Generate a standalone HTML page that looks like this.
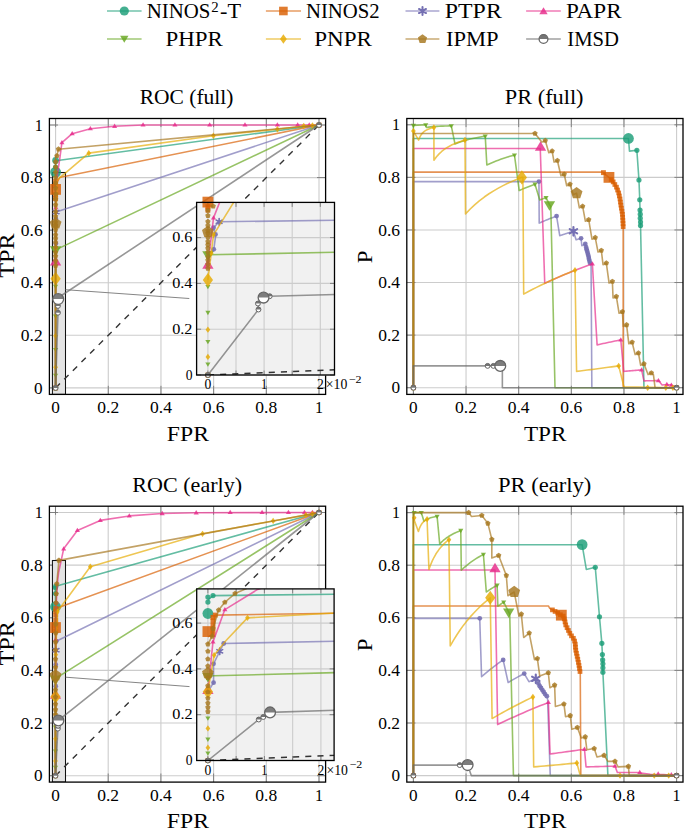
<!DOCTYPE html><html><head><meta charset="utf-8"><style>html,body{margin:0;padding:0;background:#fff;overflow:hidden}svg{display:block}text{font-family:"Liberation Serif",serif}</style></head><body><svg width="685" height="828" viewBox="0 0 685 828" font-family='"Liberation Serif", serif'>
<rect width="685" height="828" fill="#fff"/>
<defs>
<clipPath id="c_rocF"><rect x="49.4" y="118.5" width="276.20000000000005" height="275.9"/></clipPath>
<clipPath id="c_prF"><rect x="406.8" y="118.5" width="276.2" height="275.9"/></clipPath>
<clipPath id="c_rocE"><rect x="49.4" y="506.2" width="276.20000000000005" height="275.90000000000003"/></clipPath>
<clipPath id="c_prE"><rect x="406.8" y="506.2" width="276.2" height="275.90000000000003"/></clipPath>
<clipPath id="ci_rocF"><rect x="196.6" y="202.4" width="137.9" height="172.6"/></clipPath>
<clipPath id="ci_rocE"><rect x="196.7" y="588.9" width="137.40000000000003" height="171.60000000000002"/></clipPath>
</defs>
<line x1="55.60" y1="118.5" x2="55.60" y2="394.4" stroke="#cccccc" stroke-width="1.1"/>
<line x1="108.28" y1="118.5" x2="108.28" y2="394.4" stroke="#cccccc" stroke-width="1.1"/>
<line x1="160.96" y1="118.5" x2="160.96" y2="394.4" stroke="#cccccc" stroke-width="1.1"/>
<line x1="213.64" y1="118.5" x2="213.64" y2="394.4" stroke="#cccccc" stroke-width="1.1"/>
<line x1="266.32" y1="118.5" x2="266.32" y2="394.4" stroke="#cccccc" stroke-width="1.1"/>
<line x1="319.00" y1="118.5" x2="319.00" y2="394.4" stroke="#cccccc" stroke-width="1.1"/>
<line x1="49.4" y1="387.90" x2="325.6" y2="387.90" stroke="#cccccc" stroke-width="1.1"/>
<line x1="49.4" y1="335.32" x2="325.6" y2="335.32" stroke="#cccccc" stroke-width="1.1"/>
<line x1="49.4" y1="282.74" x2="325.6" y2="282.74" stroke="#cccccc" stroke-width="1.1"/>
<line x1="49.4" y1="230.16" x2="325.6" y2="230.16" stroke="#cccccc" stroke-width="1.1"/>
<line x1="49.4" y1="177.58" x2="325.6" y2="177.58" stroke="#cccccc" stroke-width="1.1"/>
<line x1="49.4" y1="125.00" x2="325.6" y2="125.00" stroke="#cccccc" stroke-width="1.1"/>
<line x1="55.60" y1="394.4" x2="55.60" y2="385.79999999999995" stroke="#777" stroke-width="0.9"/>
<line x1="55.60" y1="118.5" x2="55.60" y2="127.1" stroke="#777" stroke-width="0.9"/>
<line x1="108.28" y1="394.4" x2="108.28" y2="385.79999999999995" stroke="#777" stroke-width="0.9"/>
<line x1="108.28" y1="118.5" x2="108.28" y2="127.1" stroke="#777" stroke-width="0.9"/>
<line x1="160.96" y1="394.4" x2="160.96" y2="385.79999999999995" stroke="#777" stroke-width="0.9"/>
<line x1="160.96" y1="118.5" x2="160.96" y2="127.1" stroke="#777" stroke-width="0.9"/>
<line x1="213.64" y1="394.4" x2="213.64" y2="385.79999999999995" stroke="#777" stroke-width="0.9"/>
<line x1="213.64" y1="118.5" x2="213.64" y2="127.1" stroke="#777" stroke-width="0.9"/>
<line x1="266.32" y1="394.4" x2="266.32" y2="385.79999999999995" stroke="#777" stroke-width="0.9"/>
<line x1="266.32" y1="118.5" x2="266.32" y2="127.1" stroke="#777" stroke-width="0.9"/>
<line x1="319.00" y1="394.4" x2="319.00" y2="385.79999999999995" stroke="#777" stroke-width="0.9"/>
<line x1="319.00" y1="118.5" x2="319.00" y2="127.1" stroke="#777" stroke-width="0.9"/>
<line x1="49.4" y1="387.90" x2="58.0" y2="387.90" stroke="#777" stroke-width="0.9"/>
<line x1="325.6" y1="387.90" x2="317.0" y2="387.90" stroke="#777" stroke-width="0.9"/>
<line x1="49.4" y1="335.32" x2="58.0" y2="335.32" stroke="#777" stroke-width="0.9"/>
<line x1="325.6" y1="335.32" x2="317.0" y2="335.32" stroke="#777" stroke-width="0.9"/>
<line x1="49.4" y1="282.74" x2="58.0" y2="282.74" stroke="#777" stroke-width="0.9"/>
<line x1="325.6" y1="282.74" x2="317.0" y2="282.74" stroke="#777" stroke-width="0.9"/>
<line x1="49.4" y1="230.16" x2="58.0" y2="230.16" stroke="#777" stroke-width="0.9"/>
<line x1="325.6" y1="230.16" x2="317.0" y2="230.16" stroke="#777" stroke-width="0.9"/>
<line x1="49.4" y1="177.58" x2="58.0" y2="177.58" stroke="#777" stroke-width="0.9"/>
<line x1="325.6" y1="177.58" x2="317.0" y2="177.58" stroke="#777" stroke-width="0.9"/>
<line x1="49.4" y1="125.00" x2="58.0" y2="125.00" stroke="#777" stroke-width="0.9"/>
<line x1="325.6" y1="125.00" x2="317.0" y2="125.00" stroke="#777" stroke-width="0.9"/>
<line x1="413.40" y1="118.5" x2="413.40" y2="394.4" stroke="#cccccc" stroke-width="1.1"/>
<line x1="466.04" y1="118.5" x2="466.04" y2="394.4" stroke="#cccccc" stroke-width="1.1"/>
<line x1="518.68" y1="118.5" x2="518.68" y2="394.4" stroke="#cccccc" stroke-width="1.1"/>
<line x1="571.32" y1="118.5" x2="571.32" y2="394.4" stroke="#cccccc" stroke-width="1.1"/>
<line x1="623.96" y1="118.5" x2="623.96" y2="394.4" stroke="#cccccc" stroke-width="1.1"/>
<line x1="676.60" y1="118.5" x2="676.60" y2="394.4" stroke="#cccccc" stroke-width="1.1"/>
<line x1="406.8" y1="387.70" x2="683.0" y2="387.70" stroke="#cccccc" stroke-width="1.1"/>
<line x1="406.8" y1="335.12" x2="683.0" y2="335.12" stroke="#cccccc" stroke-width="1.1"/>
<line x1="406.8" y1="282.54" x2="683.0" y2="282.54" stroke="#cccccc" stroke-width="1.1"/>
<line x1="406.8" y1="229.96" x2="683.0" y2="229.96" stroke="#cccccc" stroke-width="1.1"/>
<line x1="406.8" y1="177.38" x2="683.0" y2="177.38" stroke="#cccccc" stroke-width="1.1"/>
<line x1="406.8" y1="124.80" x2="683.0" y2="124.80" stroke="#cccccc" stroke-width="1.1"/>
<line x1="413.40" y1="394.4" x2="413.40" y2="385.79999999999995" stroke="#777" stroke-width="0.9"/>
<line x1="413.40" y1="118.5" x2="413.40" y2="127.1" stroke="#777" stroke-width="0.9"/>
<line x1="466.04" y1="394.4" x2="466.04" y2="385.79999999999995" stroke="#777" stroke-width="0.9"/>
<line x1="466.04" y1="118.5" x2="466.04" y2="127.1" stroke="#777" stroke-width="0.9"/>
<line x1="518.68" y1="394.4" x2="518.68" y2="385.79999999999995" stroke="#777" stroke-width="0.9"/>
<line x1="518.68" y1="118.5" x2="518.68" y2="127.1" stroke="#777" stroke-width="0.9"/>
<line x1="571.32" y1="394.4" x2="571.32" y2="385.79999999999995" stroke="#777" stroke-width="0.9"/>
<line x1="571.32" y1="118.5" x2="571.32" y2="127.1" stroke="#777" stroke-width="0.9"/>
<line x1="623.96" y1="394.4" x2="623.96" y2="385.79999999999995" stroke="#777" stroke-width="0.9"/>
<line x1="623.96" y1="118.5" x2="623.96" y2="127.1" stroke="#777" stroke-width="0.9"/>
<line x1="676.60" y1="394.4" x2="676.60" y2="385.79999999999995" stroke="#777" stroke-width="0.9"/>
<line x1="676.60" y1="118.5" x2="676.60" y2="127.1" stroke="#777" stroke-width="0.9"/>
<line x1="406.8" y1="387.70" x2="415.40000000000003" y2="387.70" stroke="#777" stroke-width="0.9"/>
<line x1="683.0" y1="387.70" x2="674.4" y2="387.70" stroke="#777" stroke-width="0.9"/>
<line x1="406.8" y1="335.12" x2="415.40000000000003" y2="335.12" stroke="#777" stroke-width="0.9"/>
<line x1="683.0" y1="335.12" x2="674.4" y2="335.12" stroke="#777" stroke-width="0.9"/>
<line x1="406.8" y1="282.54" x2="415.40000000000003" y2="282.54" stroke="#777" stroke-width="0.9"/>
<line x1="683.0" y1="282.54" x2="674.4" y2="282.54" stroke="#777" stroke-width="0.9"/>
<line x1="406.8" y1="229.96" x2="415.40000000000003" y2="229.96" stroke="#777" stroke-width="0.9"/>
<line x1="683.0" y1="229.96" x2="674.4" y2="229.96" stroke="#777" stroke-width="0.9"/>
<line x1="406.8" y1="177.38" x2="415.40000000000003" y2="177.38" stroke="#777" stroke-width="0.9"/>
<line x1="683.0" y1="177.38" x2="674.4" y2="177.38" stroke="#777" stroke-width="0.9"/>
<line x1="406.8" y1="124.80" x2="415.40000000000003" y2="124.80" stroke="#777" stroke-width="0.9"/>
<line x1="683.0" y1="124.80" x2="674.4" y2="124.80" stroke="#777" stroke-width="0.9"/>
<line x1="55.50" y1="506.2" x2="55.50" y2="782.1" stroke="#cccccc" stroke-width="1.1"/>
<line x1="108.20" y1="506.2" x2="108.20" y2="782.1" stroke="#cccccc" stroke-width="1.1"/>
<line x1="160.90" y1="506.2" x2="160.90" y2="782.1" stroke="#cccccc" stroke-width="1.1"/>
<line x1="213.60" y1="506.2" x2="213.60" y2="782.1" stroke="#cccccc" stroke-width="1.1"/>
<line x1="266.30" y1="506.2" x2="266.30" y2="782.1" stroke="#cccccc" stroke-width="1.1"/>
<line x1="319.00" y1="506.2" x2="319.00" y2="782.1" stroke="#cccccc" stroke-width="1.1"/>
<line x1="49.4" y1="775.70" x2="325.6" y2="775.70" stroke="#cccccc" stroke-width="1.1"/>
<line x1="49.4" y1="723.06" x2="325.6" y2="723.06" stroke="#cccccc" stroke-width="1.1"/>
<line x1="49.4" y1="670.42" x2="325.6" y2="670.42" stroke="#cccccc" stroke-width="1.1"/>
<line x1="49.4" y1="617.78" x2="325.6" y2="617.78" stroke="#cccccc" stroke-width="1.1"/>
<line x1="49.4" y1="565.14" x2="325.6" y2="565.14" stroke="#cccccc" stroke-width="1.1"/>
<line x1="49.4" y1="512.50" x2="325.6" y2="512.50" stroke="#cccccc" stroke-width="1.1"/>
<line x1="55.50" y1="782.1" x2="55.50" y2="773.5" stroke="#777" stroke-width="0.9"/>
<line x1="55.50" y1="506.2" x2="55.50" y2="514.8" stroke="#777" stroke-width="0.9"/>
<line x1="108.20" y1="782.1" x2="108.20" y2="773.5" stroke="#777" stroke-width="0.9"/>
<line x1="108.20" y1="506.2" x2="108.20" y2="514.8" stroke="#777" stroke-width="0.9"/>
<line x1="160.90" y1="782.1" x2="160.90" y2="773.5" stroke="#777" stroke-width="0.9"/>
<line x1="160.90" y1="506.2" x2="160.90" y2="514.8" stroke="#777" stroke-width="0.9"/>
<line x1="213.60" y1="782.1" x2="213.60" y2="773.5" stroke="#777" stroke-width="0.9"/>
<line x1="213.60" y1="506.2" x2="213.60" y2="514.8" stroke="#777" stroke-width="0.9"/>
<line x1="266.30" y1="782.1" x2="266.30" y2="773.5" stroke="#777" stroke-width="0.9"/>
<line x1="266.30" y1="506.2" x2="266.30" y2="514.8" stroke="#777" stroke-width="0.9"/>
<line x1="319.00" y1="782.1" x2="319.00" y2="773.5" stroke="#777" stroke-width="0.9"/>
<line x1="319.00" y1="506.2" x2="319.00" y2="514.8" stroke="#777" stroke-width="0.9"/>
<line x1="49.4" y1="775.70" x2="58.0" y2="775.70" stroke="#777" stroke-width="0.9"/>
<line x1="325.6" y1="775.70" x2="317.0" y2="775.70" stroke="#777" stroke-width="0.9"/>
<line x1="49.4" y1="723.06" x2="58.0" y2="723.06" stroke="#777" stroke-width="0.9"/>
<line x1="325.6" y1="723.06" x2="317.0" y2="723.06" stroke="#777" stroke-width="0.9"/>
<line x1="49.4" y1="670.42" x2="58.0" y2="670.42" stroke="#777" stroke-width="0.9"/>
<line x1="325.6" y1="670.42" x2="317.0" y2="670.42" stroke="#777" stroke-width="0.9"/>
<line x1="49.4" y1="617.78" x2="58.0" y2="617.78" stroke="#777" stroke-width="0.9"/>
<line x1="325.6" y1="617.78" x2="317.0" y2="617.78" stroke="#777" stroke-width="0.9"/>
<line x1="49.4" y1="565.14" x2="58.0" y2="565.14" stroke="#777" stroke-width="0.9"/>
<line x1="325.6" y1="565.14" x2="317.0" y2="565.14" stroke="#777" stroke-width="0.9"/>
<line x1="49.4" y1="512.50" x2="58.0" y2="512.50" stroke="#777" stroke-width="0.9"/>
<line x1="325.6" y1="512.50" x2="317.0" y2="512.50" stroke="#777" stroke-width="0.9"/>
<line x1="413.40" y1="506.2" x2="413.40" y2="782.1" stroke="#cccccc" stroke-width="1.1"/>
<line x1="466.04" y1="506.2" x2="466.04" y2="782.1" stroke="#cccccc" stroke-width="1.1"/>
<line x1="518.68" y1="506.2" x2="518.68" y2="782.1" stroke="#cccccc" stroke-width="1.1"/>
<line x1="571.32" y1="506.2" x2="571.32" y2="782.1" stroke="#cccccc" stroke-width="1.1"/>
<line x1="623.96" y1="506.2" x2="623.96" y2="782.1" stroke="#cccccc" stroke-width="1.1"/>
<line x1="676.60" y1="506.2" x2="676.60" y2="782.1" stroke="#cccccc" stroke-width="1.1"/>
<line x1="406.8" y1="775.60" x2="683.0" y2="775.60" stroke="#cccccc" stroke-width="1.1"/>
<line x1="406.8" y1="723.00" x2="683.0" y2="723.00" stroke="#cccccc" stroke-width="1.1"/>
<line x1="406.8" y1="670.40" x2="683.0" y2="670.40" stroke="#cccccc" stroke-width="1.1"/>
<line x1="406.8" y1="617.80" x2="683.0" y2="617.80" stroke="#cccccc" stroke-width="1.1"/>
<line x1="406.8" y1="565.20" x2="683.0" y2="565.20" stroke="#cccccc" stroke-width="1.1"/>
<line x1="406.8" y1="512.60" x2="683.0" y2="512.60" stroke="#cccccc" stroke-width="1.1"/>
<line x1="413.40" y1="782.1" x2="413.40" y2="773.5" stroke="#777" stroke-width="0.9"/>
<line x1="413.40" y1="506.2" x2="413.40" y2="514.8" stroke="#777" stroke-width="0.9"/>
<line x1="466.04" y1="782.1" x2="466.04" y2="773.5" stroke="#777" stroke-width="0.9"/>
<line x1="466.04" y1="506.2" x2="466.04" y2="514.8" stroke="#777" stroke-width="0.9"/>
<line x1="518.68" y1="782.1" x2="518.68" y2="773.5" stroke="#777" stroke-width="0.9"/>
<line x1="518.68" y1="506.2" x2="518.68" y2="514.8" stroke="#777" stroke-width="0.9"/>
<line x1="571.32" y1="782.1" x2="571.32" y2="773.5" stroke="#777" stroke-width="0.9"/>
<line x1="571.32" y1="506.2" x2="571.32" y2="514.8" stroke="#777" stroke-width="0.9"/>
<line x1="623.96" y1="782.1" x2="623.96" y2="773.5" stroke="#777" stroke-width="0.9"/>
<line x1="623.96" y1="506.2" x2="623.96" y2="514.8" stroke="#777" stroke-width="0.9"/>
<line x1="676.60" y1="782.1" x2="676.60" y2="773.5" stroke="#777" stroke-width="0.9"/>
<line x1="676.60" y1="506.2" x2="676.60" y2="514.8" stroke="#777" stroke-width="0.9"/>
<line x1="406.8" y1="775.60" x2="415.40000000000003" y2="775.60" stroke="#777" stroke-width="0.9"/>
<line x1="683.0" y1="775.60" x2="674.4" y2="775.60" stroke="#777" stroke-width="0.9"/>
<line x1="406.8" y1="723.00" x2="415.40000000000003" y2="723.00" stroke="#777" stroke-width="0.9"/>
<line x1="683.0" y1="723.00" x2="674.4" y2="723.00" stroke="#777" stroke-width="0.9"/>
<line x1="406.8" y1="670.40" x2="415.40000000000003" y2="670.40" stroke="#777" stroke-width="0.9"/>
<line x1="683.0" y1="670.40" x2="674.4" y2="670.40" stroke="#777" stroke-width="0.9"/>
<line x1="406.8" y1="617.80" x2="415.40000000000003" y2="617.80" stroke="#777" stroke-width="0.9"/>
<line x1="683.0" y1="617.80" x2="674.4" y2="617.80" stroke="#777" stroke-width="0.9"/>
<line x1="406.8" y1="565.20" x2="415.40000000000003" y2="565.20" stroke="#777" stroke-width="0.9"/>
<line x1="683.0" y1="565.20" x2="674.4" y2="565.20" stroke="#777" stroke-width="0.9"/>
<line x1="406.8" y1="512.60" x2="415.40000000000003" y2="512.60" stroke="#777" stroke-width="0.9"/>
<line x1="683.0" y1="512.60" x2="674.4" y2="512.60" stroke="#777" stroke-width="0.9"/>
<g clip-path="url(#c_rocF)">
<rect x="52.4" y="172.5" width="13.100000000000001" height="221.89999999999998" fill="#e4e4e4" stroke="#111" stroke-width="1.05"/>
<line x1="55.60" y1="387.90" x2="319.00" y2="125.00" stroke="#333" stroke-width="1.4" stroke-dasharray="6.09 6.09"/>
</g>
<g clip-path="url(#c_rocF)"><polyline points="55.60,387.90 55.60,172.06 55.60,160.49 59.55,160.23 319.00,125.00" fill="none" stroke="#1b9e77" stroke-width="1.6" stroke-opacity="0.68" stroke-linejoin="round"/></g>
<circle cx="55.60" cy="387.90" r="2.60" fill="#1b9e77" fill-opacity="0.82"/>
<circle cx="319.00" cy="125.00" r="2.60" fill="#1b9e77" fill-opacity="0.82"/>
<circle cx="55.60" cy="172.06" r="5.40" fill="#1b9e77" fill-opacity="0.82"/>
<circle cx="55.60" cy="160.49" r="3.40" fill="#1b9e77" fill-opacity="0.82"/>
<circle cx="55.60" cy="167.06" r="2.60" fill="#1b9e77" fill-opacity="0.82"/>
<g clip-path="url(#c_rocF)"><polyline points="55.60,387.90 55.60,189.41 56.92,182.84 59.55,177.58 319.00,125.00" fill="none" stroke="#d95f02" stroke-width="1.6" stroke-opacity="0.68" stroke-linejoin="round"/></g>
<rect x="53.15" y="385.45" width="4.90" height="4.90" fill="#d95f02" fill-opacity="0.82"/>
<rect x="316.55" y="122.55" width="4.90" height="4.90" fill="#d95f02" fill-opacity="0.82"/>
<rect x="53.15" y="196.16" width="4.90" height="4.90" fill="#d95f02" fill-opacity="0.82"/>
<rect x="53.15" y="192.22" width="4.90" height="4.90" fill="#d95f02" fill-opacity="0.82"/>
<rect x="53.15" y="183.02" width="4.90" height="4.90" fill="#d95f02" fill-opacity="0.82"/>
<rect x="53.15" y="179.07" width="4.90" height="4.90" fill="#d95f02" fill-opacity="0.82"/>
<rect x="50.20" y="184.01" width="10.80" height="10.80" fill="#d95f02" fill-opacity="0.82"/>
<g clip-path="url(#c_rocF)"><polyline points="55.60,387.90 55.60,256.45 55.88,243.57 55.97,227.01 55.86,218.86 56.13,212.02 319.00,125.00" fill="none" stroke="#7570b3" stroke-width="1.6" stroke-opacity="0.68" stroke-linejoin="round"/></g>
<circle cx="55.60" cy="387.90" r="2.40" fill="#7570b3" fill-opacity="0.9"/>
<circle cx="319.00" cy="125.00" r="2.40" fill="#7570b3" fill-opacity="0.9"/>
<circle cx="55.88" cy="243.57" r="2.40" fill="#7570b3" fill-opacity="0.9"/>
<circle cx="55.96" cy="226.48" r="2.40" fill="#7570b3" fill-opacity="0.9"/>
<circle cx="55.86" cy="218.86" r="2.40" fill="#7570b3" fill-opacity="0.9"/>
<path d="M56.13,208.72L56.13,215.32M53.27,210.37L58.98,213.67M58.98,210.37L53.27,213.67" stroke="#7570b3" stroke-width="1.65" stroke-linecap="round" fill="none"/><circle cx="56.13" cy="212.02" r="1.65" fill="#7570b3"/>
<g clip-path="url(#c_rocF)"><polyline points="55.60,387.90 55.60,261.97 55.86,207.55 56.15,189.41 56.92,177.58 59.55,160.49 61.92,142.61 72.19,133.68 90.37,128.68 114.60,126.31 143.05,125.00 319.00,125.00" fill="none" stroke="#e7298a" stroke-width="1.6" stroke-opacity="0.68" stroke-linejoin="round"/></g>
<path d="M55.60,385.20L58.16,389.52L53.04,389.52Z" fill="#e7298a" fill-opacity="0.82"/>
<path d="M319.00,122.31L321.56,126.62L316.44,126.62Z" fill="#e7298a" fill-opacity="0.82"/>
<path d="M55.60,256.03L61.24,265.53L49.96,265.53Z" fill="#e7298a" fill-opacity="0.82"/>
<path d="M55.86,204.86L58.42,209.17L53.30,209.17Z" fill="#e7298a" fill-opacity="0.82"/>
<path d="M61.92,139.92L64.48,144.23L59.36,144.23Z" fill="#e7298a" fill-opacity="0.82"/>
<path d="M72.19,130.98L74.75,135.29L69.63,135.29Z" fill="#e7298a" fill-opacity="0.82"/>
<path d="M90.37,125.99L92.93,130.30L87.81,130.30Z" fill="#e7298a" fill-opacity="0.82"/>
<path d="M114.60,123.62L117.16,127.93L112.04,127.93Z" fill="#e7298a" fill-opacity="0.82"/>
<path d="M143.05,122.31L145.61,126.62L140.49,126.62Z" fill="#e7298a" fill-opacity="0.82"/>
<path d="M174.92,122.31L177.48,126.62L172.36,126.62Z" fill="#e7298a" fill-opacity="0.82"/>
<path d="M209.69,122.31L212.25,126.62L207.13,126.62Z" fill="#e7298a" fill-opacity="0.82"/>
<path d="M244.98,122.31L247.54,126.62L242.42,126.62Z" fill="#e7298a" fill-opacity="0.82"/>
<path d="M277.38,122.31L279.94,126.62L274.82,126.62Z" fill="#e7298a" fill-opacity="0.82"/>
<path d="M297.66,122.31L300.22,126.62L295.10,126.62Z" fill="#e7298a" fill-opacity="0.82"/>
<path d="M309.25,122.31L311.81,126.62L306.69,126.62Z" fill="#e7298a" fill-opacity="0.82"/>
<g clip-path="url(#c_rocF)"><polyline points="55.60,387.90 55.60,249.88 319.00,125.00" fill="none" stroke="#66a61e" stroke-width="1.6" stroke-opacity="0.68" stroke-linejoin="round"/></g>
<path d="M55.60,390.59L58.16,386.28L53.04,386.28Z" fill="#66a61e" fill-opacity="0.82"/>
<path d="M319.00,127.69L321.56,123.38L316.44,123.38Z" fill="#66a61e" fill-opacity="0.82"/>
<path d="M55.60,390.59L58.16,386.28L53.04,386.28Z" fill="#66a61e" fill-opacity="0.82"/>
<path d="M55.60,377.98L58.16,373.66L53.04,373.66Z" fill="#66a61e" fill-opacity="0.82"/>
<path d="M55.60,352.21L58.16,347.90L53.04,347.90Z" fill="#66a61e" fill-opacity="0.82"/>
<path d="M55.60,318.82L58.16,314.51L53.04,314.51Z" fill="#66a61e" fill-opacity="0.82"/>
<path d="M55.60,289.12L58.16,284.80L53.04,284.80Z" fill="#66a61e" fill-opacity="0.82"/>
<path d="M55.60,255.82L61.24,246.31L49.96,246.31Z" fill="#66a61e" fill-opacity="0.82"/>
<g clip-path="url(#c_rocF)"><polyline points="55.60,387.90 55.60,278.80 55.76,248.04 55.86,227.01 57.05,180.21 88.79,153.13 213.38,135.78 277.38,129.21 303.72,126.05 319.00,125.00" fill="none" stroke="#e6ab02" stroke-width="1.6" stroke-opacity="0.68" stroke-linejoin="round"/></g>
<path d="M55.60,384.71L57.93,387.90L55.60,391.08L53.27,387.90Z" fill="#e6ab02" fill-opacity="0.82"/>
<path d="M319.00,121.81L321.33,125.00L319.00,128.19L316.67,125.00Z" fill="#e6ab02" fill-opacity="0.82"/>
<path d="M55.60,363.95L57.93,367.13L55.60,370.32L53.27,367.13Z" fill="#e6ab02" fill-opacity="0.82"/>
<path d="M55.60,332.66L57.93,335.85L55.60,339.03L53.27,335.85Z" fill="#e6ab02" fill-opacity="0.82"/>
<path d="M55.60,271.78L60.73,278.80L55.60,285.82L50.47,278.80Z" fill="#e6ab02" fill-opacity="0.82"/>
<path d="M55.76,244.85L58.09,248.04L55.76,251.22L53.43,248.04Z" fill="#e6ab02" fill-opacity="0.82"/>
<path d="M55.86,223.82L58.19,227.01L55.86,230.19L53.54,227.01Z" fill="#e6ab02" fill-opacity="0.82"/>
<path d="M88.79,149.95L91.12,153.13L88.79,156.32L86.46,153.13Z" fill="#e6ab02" fill-opacity="0.82"/>
<path d="M213.38,132.59L215.70,135.78L213.38,138.96L211.05,135.78Z" fill="#e6ab02" fill-opacity="0.82"/>
<path d="M277.38,126.02L279.71,129.21L277.38,132.39L275.06,129.21Z" fill="#e6ab02" fill-opacity="0.82"/>
<path d="M303.72,122.87L306.05,126.05L303.72,129.24L301.40,126.05Z" fill="#e6ab02" fill-opacity="0.82"/>
<path d="M312.42,122.34L314.74,125.53L312.42,128.71L310.09,125.53Z" fill="#e6ab02" fill-opacity="0.82"/>
<g clip-path="url(#c_rocF)"><polyline points="55.60,387.90 55.60,156.55 56.92,155.76 58.50,149.19 319.00,125.00" fill="none" stroke="#a6761d" stroke-width="1.6" stroke-opacity="0.68" stroke-linejoin="round"/></g>
<polygon points="55.60,385.08 58.28,387.03 57.26,390.18 53.94,390.18 52.92,387.03" fill="#a6761d" fill-opacity="0.82"/>
<polygon points="319.00,122.18 321.68,124.13 320.66,127.28 317.34,127.28 316.32,124.13" fill="#a6761d" fill-opacity="0.82"/>
<polygon points="55.60,262.83 58.28,264.78 57.26,267.93 53.94,267.93 52.92,264.78" fill="#a6761d" fill-opacity="0.82"/>
<polygon points="55.60,258.10 58.28,260.05 57.26,263.20 53.94,263.20 52.92,260.05" fill="#a6761d" fill-opacity="0.82"/>
<polygon points="55.60,253.37 58.28,255.32 57.26,258.47 53.94,258.47 52.92,255.32" fill="#a6761d" fill-opacity="0.82"/>
<polygon points="55.60,249.43 58.28,251.37 57.26,254.52 53.94,254.52 52.92,251.37" fill="#a6761d" fill-opacity="0.82"/>
<polygon points="55.60,244.43 58.28,246.38 57.26,249.53 53.94,249.53 52.92,246.38" fill="#a6761d" fill-opacity="0.82"/>
<polygon points="55.60,239.70 58.28,241.65 57.26,244.80 53.94,244.80 52.92,241.65" fill="#a6761d" fill-opacity="0.82"/>
<polygon points="55.60,235.76 58.28,237.70 57.26,240.85 53.94,240.85 52.92,237.70" fill="#a6761d" fill-opacity="0.82"/>
<polygon points="55.60,232.07 58.28,234.02 57.26,237.17 53.94,237.17 52.92,234.02" fill="#a6761d" fill-opacity="0.82"/>
<polygon points="55.60,227.08 58.28,229.03 57.26,232.18 53.94,232.18 52.92,229.03" fill="#a6761d" fill-opacity="0.82"/>
<polygon points="55.60,222.35 58.28,224.29 57.26,227.44 53.94,227.44 52.92,224.29" fill="#a6761d" fill-opacity="0.82"/>
<polygon points="55.60,219.46 58.28,221.40 57.26,224.55 53.94,224.55 52.92,221.40" fill="#a6761d" fill-opacity="0.82"/>
<polygon points="55.60,213.67 58.28,215.62 57.26,218.77 53.94,218.77 52.92,215.62" fill="#a6761d" fill-opacity="0.82"/>
<polygon points="55.60,208.94 58.28,210.89 57.26,214.04 53.94,214.04 52.92,210.89" fill="#a6761d" fill-opacity="0.82"/>
<polygon points="55.60,202.10 58.28,204.05 57.26,207.20 53.94,207.20 52.92,204.05" fill="#a6761d" fill-opacity="0.82"/>
<polygon points="55.60,196.32 58.28,198.27 57.26,201.42 53.94,201.42 52.92,198.27" fill="#a6761d" fill-opacity="0.82"/>
<polygon points="55.60,185.28 58.28,187.23 57.26,190.38 53.94,190.38 52.92,187.23" fill="#a6761d" fill-opacity="0.82"/>
<polygon points="55.60,180.02 58.28,181.97 57.26,185.12 53.94,185.12 52.92,181.97" fill="#a6761d" fill-opacity="0.82"/>
<polygon points="55.60,174.76 58.28,176.71 57.26,179.86 53.94,179.86 52.92,176.71" fill="#a6761d" fill-opacity="0.82"/>
<polygon points="55.60,169.50 58.28,171.45 57.26,174.60 53.94,174.60 52.92,171.45" fill="#a6761d" fill-opacity="0.82"/>
<polygon points="55.60,164.25 58.28,166.19 57.26,169.34 53.94,169.34 52.92,166.19" fill="#a6761d" fill-opacity="0.82"/>
<polygon points="55.60,158.99 58.28,160.94 57.26,164.09 53.94,164.09 52.92,160.94" fill="#a6761d" fill-opacity="0.82"/>
<polygon points="55.85,191.33 58.53,193.27 57.50,196.42 54.19,196.42 53.17,193.27" fill="#a6761d" fill-opacity="0.82"/>
<polygon points="55.60,217.38 61.51,221.67 59.25,228.61 51.95,228.61 49.69,221.67" fill="#a6761d" fill-opacity="0.82"/>
<polygon points="56.92,152.94 59.60,154.89 58.57,158.04 55.26,158.04 54.24,154.89" fill="#a6761d" fill-opacity="0.82"/>
<polygon points="58.50,146.37 61.18,148.32 60.15,151.47 56.84,151.47 55.82,148.32" fill="#a6761d" fill-opacity="0.82"/>
<g clip-path="url(#c_rocF)"><polyline points="55.60,387.90 57.97,312.71 57.94,305.88 58.21,299.04 58.50,297.46 319.00,125.00" fill="none" stroke="#666666" stroke-width="1.6" stroke-opacity="0.68" stroke-linejoin="round"/></g>
<circle cx="55.60" cy="387.90" r="2.45" fill="#fff" stroke="#666666" stroke-width="1.0"/><path d="M53.15,387.90A2.45,2.45 0 0 1 58.05,387.90Z" fill="#666666" fill-opacity="0.9"/>
<circle cx="57.97" cy="312.71" r="2.45" fill="#fff" stroke="#666666" stroke-width="1.0"/><path d="M55.52,312.71A2.45,2.45 0 0 1 60.42,312.71Z" fill="#666666" fill-opacity="0.9"/>
<circle cx="57.94" cy="305.88" r="2.45" fill="#fff" stroke="#666666" stroke-width="1.0"/><path d="M55.49,305.88A2.45,2.45 0 0 1 60.39,305.88Z" fill="#666666" fill-opacity="0.9"/>
<circle cx="58.50" cy="297.46" r="2.45" fill="#fff" stroke="#666666" stroke-width="1.0"/><path d="M56.05,297.46A2.45,2.45 0 0 1 60.95,297.46Z" fill="#666666" fill-opacity="0.9"/>
<circle cx="58.21" cy="299.04" r="5.40" fill="#fff" stroke="#666666" stroke-width="1.3"/><path d="M52.81,299.04A5.40,5.40 0 0 1 63.61,299.04Z" fill="#666666" fill-opacity="0.85"/>
<circle cx="319.00" cy="125.00" r="2.45" fill="#fff" stroke="#666666" stroke-width="1.0"/><path d="M316.55,125.00A2.45,2.45 0 0 1 321.45,125.00Z" fill="#666666" fill-opacity="0.9"/>
<rect x="49.4" y="118.5" width="276.20000000000005" height="275.9" fill="none" stroke="#000" stroke-width="1.3"/>
<text x="55.60" y="412.90" font-size="17" text-anchor="middle" textLength="8.60" lengthAdjust="spacingAndGlyphs">0</text>
<text x="108.28" y="412.90" font-size="17" text-anchor="middle" textLength="21.90" lengthAdjust="spacingAndGlyphs">0.2</text>
<text x="160.96" y="412.90" font-size="17" text-anchor="middle" textLength="21.90" lengthAdjust="spacingAndGlyphs">0.4</text>
<text x="213.64" y="412.90" font-size="17" text-anchor="middle" textLength="21.90" lengthAdjust="spacingAndGlyphs">0.6</text>
<text x="266.32" y="412.90" font-size="17" text-anchor="middle" textLength="21.90" lengthAdjust="spacingAndGlyphs">0.8</text>
<text x="319.00" y="412.90" font-size="17" text-anchor="middle" textLength="8.00" lengthAdjust="spacingAndGlyphs">1</text>
<text x="42.70" y="393.50" font-size="17" text-anchor="end" textLength="8.60" lengthAdjust="spacingAndGlyphs">0</text>
<text x="42.70" y="340.92" font-size="17" text-anchor="end" textLength="21.90" lengthAdjust="spacingAndGlyphs">0.2</text>
<text x="42.70" y="288.34" font-size="17" text-anchor="end" textLength="21.90" lengthAdjust="spacingAndGlyphs">0.4</text>
<text x="42.70" y="235.76" font-size="17" text-anchor="end" textLength="21.90" lengthAdjust="spacingAndGlyphs">0.6</text>
<text x="42.70" y="183.18" font-size="17" text-anchor="end" textLength="21.90" lengthAdjust="spacingAndGlyphs">0.8</text>
<text x="42.70" y="130.60" font-size="17" text-anchor="end" textLength="8.00" lengthAdjust="spacingAndGlyphs">1</text>
<g clip-path="url(#c_prF)">
</g>
<g clip-path="url(#c_prF)"><polyline points="413.40,387.70 413.40,138.47 628.43,138.47 629.49,151.09 636.86,150.30 638.96,180.01 639.75,199.73 640.02,209.98 640.54,225.49 643.96,387.70 676.60,387.70" fill="none" stroke="#1b9e77" stroke-width="1.6" stroke-opacity="0.68" stroke-linejoin="round"/></g>
<circle cx="413.40" cy="387.70" r="2.60" fill="#1b9e77" fill-opacity="0.82"/>
<circle cx="676.60" cy="387.70" r="2.60" fill="#1b9e77" fill-opacity="0.82"/>
<circle cx="628.43" cy="138.47" r="5.40" fill="#1b9e77" fill-opacity="0.82"/>
<circle cx="636.86" cy="150.30" r="2.60" fill="#1b9e77" fill-opacity="0.82"/>
<circle cx="638.96" cy="180.01" r="2.60" fill="#1b9e77" fill-opacity="0.82"/>
<circle cx="639.75" cy="199.73" r="2.60" fill="#1b9e77" fill-opacity="0.82"/>
<circle cx="640.02" cy="209.98" r="2.60" fill="#1b9e77" fill-opacity="0.82"/>
<circle cx="640.28" cy="214.19" r="2.60" fill="#1b9e77" fill-opacity="0.82"/>
<circle cx="640.28" cy="218.13" r="2.60" fill="#1b9e77" fill-opacity="0.82"/>
<circle cx="640.54" cy="222.07" r="2.60" fill="#1b9e77" fill-opacity="0.82"/>
<circle cx="640.54" cy="225.49" r="2.60" fill="#1b9e77" fill-opacity="0.82"/>
<g clip-path="url(#c_prF)"><polyline points="413.40,387.70 413.40,172.12 602.11,172.12 608.96,177.38 612.64,181.06 616.33,186.84 618.70,192.89 620.01,198.94 621.06,206.30 622.38,213.40 622.91,220.76 623.17,226.81 623.17,387.70 676.60,387.70" fill="none" stroke="#d95f02" stroke-width="1.6" stroke-opacity="0.68" stroke-linejoin="round"/></g>
<rect x="608.80" y="177.22" width="4.70" height="4.70" fill="#d95f02" fill-opacity="0.82"/>
<rect x="610.83" y="179.55" width="4.70" height="4.70" fill="#d95f02" fill-opacity="0.82"/>
<rect x="612.49" y="182.16" width="4.70" height="4.70" fill="#d95f02" fill-opacity="0.82"/>
<rect x="614.10" y="184.81" width="4.70" height="4.70" fill="#d95f02" fill-opacity="0.82"/>
<rect x="615.23" y="187.69" width="4.70" height="4.70" fill="#d95f02" fill-opacity="0.82"/>
<rect x="616.35" y="190.58" width="4.70" height="4.70" fill="#d95f02" fill-opacity="0.82"/>
<rect x="617.01" y="193.61" width="4.70" height="4.70" fill="#d95f02" fill-opacity="0.82"/>
<rect x="617.67" y="196.64" width="4.70" height="4.70" fill="#d95f02" fill-opacity="0.82"/>
<rect x="618.11" y="199.71" width="4.70" height="4.70" fill="#d95f02" fill-opacity="0.82"/>
<rect x="618.55" y="202.78" width="4.70" height="4.70" fill="#d95f02" fill-opacity="0.82"/>
<rect x="619.06" y="205.83" width="4.70" height="4.70" fill="#d95f02" fill-opacity="0.82"/>
<rect x="619.63" y="208.88" width="4.70" height="4.70" fill="#d95f02" fill-opacity="0.82"/>
<rect x="620.09" y="211.94" width="4.70" height="4.70" fill="#d95f02" fill-opacity="0.82"/>
<rect x="620.32" y="215.03" width="4.70" height="4.70" fill="#d95f02" fill-opacity="0.82"/>
<rect x="620.54" y="218.13" width="4.70" height="4.70" fill="#d95f02" fill-opacity="0.82"/>
<rect x="620.68" y="221.22" width="4.70" height="4.70" fill="#d95f02" fill-opacity="0.82"/>
<rect x="620.81" y="224.32" width="4.70" height="4.70" fill="#d95f02" fill-opacity="0.82"/>
<rect x="410.95" y="385.25" width="4.90" height="4.90" fill="#d95f02" fill-opacity="0.82"/>
<rect x="674.15" y="385.25" width="4.90" height="4.90" fill="#d95f02" fill-opacity="0.82"/>
<rect x="603.56" y="171.98" width="10.80" height="10.80" fill="#d95f02" fill-opacity="0.82"/>
<rect x="600.98" y="170.20" width="4.90" height="4.90" fill="#d95f02" fill-opacity="0.82"/>
<g clip-path="url(#c_prF)"><polyline points="413.40,387.70 413.40,181.59 538.95,181.59 539.21,223.12 540.66,222.48 542.10,221.85 543.55,221.23 545.00,220.62 546.45,220.02 547.90,219.42 549.34,218.83 550.79,218.26 552.24,217.69 553.69,217.13 555.13,216.57 556.58,216.03 559.74,235.74 560.88,235.35 562.02,234.96 563.16,234.58 564.30,234.19 565.44,233.82 566.58,233.44 567.72,233.07 568.86,232.70 570.00,232.34 571.14,231.98 572.29,231.63 573.43,231.27 576.06,239.79 576.47,239.67 576.89,239.55 577.31,239.43 577.72,239.31 578.14,239.19 578.56,239.08 578.97,238.96 579.39,238.84 579.81,238.72 580.22,238.61 580.64,238.49 581.06,238.37 581.85,245.73 582.13,245.58 582.42,245.43 582.70,245.27 582.99,245.12 583.27,244.96 583.56,244.81 583.84,244.66 584.13,244.50 584.41,244.35 584.70,244.20 584.98,244.05 585.27,243.89 586.06,247.05 587.11,250.99 588.16,254.94 588.95,258.88 590.01,263.09 591.06,264.66 591.85,387.70 676.60,387.70" fill="none" stroke="#7570b3" stroke-width="1.6" stroke-opacity="0.68" stroke-linejoin="round"/></g>
<circle cx="413.40" cy="387.70" r="2.40" fill="#7570b3" fill-opacity="0.9"/>
<circle cx="676.60" cy="387.70" r="2.40" fill="#7570b3" fill-opacity="0.9"/>
<circle cx="538.95" cy="181.59" r="2.40" fill="#7570b3" fill-opacity="0.9"/>
<circle cx="556.58" cy="216.03" r="2.40" fill="#7570b3" fill-opacity="0.9"/>
<path d="M573.43,226.98L573.43,235.56M569.71,229.13L577.14,233.42M577.14,229.13L569.71,233.42" stroke="#7570b3" stroke-width="2.15" stroke-linecap="round" fill="none"/><circle cx="573.43" cy="231.27" r="2.15" fill="#7570b3"/>
<circle cx="581.06" cy="238.37" r="2.40" fill="#7570b3" fill-opacity="0.9"/>
<circle cx="585.27" cy="243.89" r="2.40" fill="#7570b3" fill-opacity="0.9"/>
<circle cx="586.06" cy="247.05" r="2.40" fill="#7570b3" fill-opacity="0.9"/>
<circle cx="586.59" cy="249.15" r="2.40" fill="#7570b3" fill-opacity="0.9"/>
<circle cx="587.11" cy="250.99" r="2.40" fill="#7570b3" fill-opacity="0.9"/>
<circle cx="587.64" cy="253.10" r="2.40" fill="#7570b3" fill-opacity="0.9"/>
<circle cx="588.16" cy="254.94" r="2.40" fill="#7570b3" fill-opacity="0.9"/>
<circle cx="588.69" cy="257.04" r="2.40" fill="#7570b3" fill-opacity="0.9"/>
<circle cx="588.95" cy="258.88" r="2.40" fill="#7570b3" fill-opacity="0.9"/>
<circle cx="589.48" cy="260.98" r="2.40" fill="#7570b3" fill-opacity="0.9"/>
<circle cx="590.01" cy="263.09" r="2.40" fill="#7570b3" fill-opacity="0.9"/>
<g clip-path="url(#c_prF)"><polyline points="413.40,387.70 413.40,148.46 540.26,148.46 544.74,283.33 548.71,281.49 552.68,279.69 556.65,277.94 560.62,276.23 564.59,274.56 568.56,272.93 572.53,271.33 576.50,269.77 580.47,268.25 584.44,266.76 588.41,265.30 592.38,263.87 597.11,344.85 599.09,344.43 601.06,344.01 603.04,343.59 605.01,343.17 606.98,342.75 608.96,342.34 610.93,341.92 612.91,341.51 614.88,341.09 616.85,340.68 618.83,340.26 620.80,339.85 623.70,371.40 625.19,371.27 626.68,371.14 628.17,371.01 629.66,370.88 631.15,370.75 632.65,370.62 634.14,370.48 635.63,370.35 637.12,370.22 638.61,370.09 640.10,369.96 641.59,369.82 643.96,380.86 645.17,380.84 646.38,380.82 647.58,380.80 648.79,380.78 649.99,380.75 651.20,380.73 652.41,380.71 653.61,380.69 654.82,380.67 656.03,380.64 657.23,380.62 658.44,380.60 662.12,385.07 666.86,384.55 671.34,385.07 676.60,387.70" fill="none" stroke="#e7298a" stroke-width="1.6" stroke-opacity="0.68" stroke-linejoin="round"/></g>
<path d="M413.40,385.00L415.96,389.32L410.84,389.32Z" fill="#e7298a" fill-opacity="0.82"/>
<path d="M676.60,385.00L679.16,389.32L674.04,389.32Z" fill="#e7298a" fill-opacity="0.82"/>
<path d="M540.53,141.21L546.17,150.71L534.88,150.71Z" fill="#e7298a" fill-opacity="0.82"/>
<path d="M592.38,261.18L594.94,265.49L589.82,265.49Z" fill="#e7298a" fill-opacity="0.82"/>
<path d="M620.80,337.16L623.36,341.47L618.24,341.47Z" fill="#e7298a" fill-opacity="0.82"/>
<path d="M641.59,367.13L644.15,371.44L639.03,371.44Z" fill="#e7298a" fill-opacity="0.82"/>
<path d="M658.44,377.91L661.00,382.22L655.88,382.22Z" fill="#e7298a" fill-opacity="0.82"/>
<path d="M666.86,381.85L669.42,386.16L664.30,386.16Z" fill="#e7298a" fill-opacity="0.82"/>
<path d="M671.34,382.38L673.90,386.69L668.78,386.69Z" fill="#e7298a" fill-opacity="0.82"/>
<g clip-path="url(#c_prF)"><polyline points="413.40,387.70 413.40,125.33 425.77,124.80 426.56,127.43 428.62,127.10 430.68,126.85 432.75,126.66 434.81,126.50 436.87,126.37 438.93,126.26 440.99,126.17 443.05,126.09 445.12,126.02 447.18,125.95 449.24,125.90 451.30,125.85 454.99,143.99 457.51,142.95 460.03,142.01 462.55,141.17 465.07,140.40 467.60,139.70 470.12,139.05 472.64,138.46 475.16,137.92 477.69,137.41 480.21,136.95 482.73,136.51 485.25,136.10 486.83,165.02 489.14,163.96 491.44,162.94 493.74,161.98 496.04,161.06 498.35,160.18 500.65,159.34 502.95,158.55 505.26,157.78 507.56,157.05 509.86,156.35 512.17,155.68 514.47,155.03 519.21,190.53 520.52,189.94 521.84,189.38 523.15,188.82 524.47,188.27 525.79,187.73 527.10,187.20 528.42,186.68 529.73,186.17 531.05,185.67 532.37,185.18 533.68,184.69 535.00,184.22 539.74,199.99 540.26,199.79 540.79,199.58 541.32,199.38 541.84,199.18 542.37,198.98 542.89,198.78 543.42,198.59 543.95,198.39 544.47,198.20 545.00,198.01 545.53,197.81 546.05,197.62 549.47,204.72 550.79,206.30 555.00,387.70 676.60,387.70" fill="none" stroke="#66a61e" stroke-width="1.6" stroke-opacity="0.68" stroke-linejoin="round"/></g>
<path d="M413.40,390.39L415.96,386.08L410.84,386.08Z" fill="#66a61e" fill-opacity="0.82"/>
<path d="M676.60,390.39L679.16,386.08L674.04,386.08Z" fill="#66a61e" fill-opacity="0.82"/>
<path d="M413.40,128.02L415.96,123.71L410.84,123.71Z" fill="#66a61e" fill-opacity="0.82"/>
<path d="M425.77,127.50L428.33,123.18L423.21,123.18Z" fill="#66a61e" fill-opacity="0.82"/>
<path d="M451.30,128.55L453.86,124.23L448.74,124.23Z" fill="#66a61e" fill-opacity="0.82"/>
<path d="M485.25,138.80L487.81,134.49L482.69,134.49Z" fill="#66a61e" fill-opacity="0.82"/>
<path d="M514.47,157.73L517.03,153.42L511.91,153.42Z" fill="#66a61e" fill-opacity="0.82"/>
<path d="M535.00,186.91L537.56,182.60L532.44,182.60Z" fill="#66a61e" fill-opacity="0.82"/>
<path d="M546.05,200.32L548.61,196.01L543.49,196.01Z" fill="#66a61e" fill-opacity="0.82"/>
<path d="M549.47,210.66L555.12,201.16L543.83,201.16Z" fill="#66a61e" fill-opacity="0.82"/>
<g clip-path="url(#c_prF)"><polyline points="413.40,387.70 413.40,131.11 418.66,140.05 419.94,136.86 421.21,134.67 422.48,133.07 423.75,131.85 425.02,130.89 426.30,130.11 427.57,129.47 428.84,128.93 430.11,128.47 431.39,128.07 432.66,127.73 433.93,127.43 433.93,160.29 436.52,156.78 439.11,153.90 441.69,151.49 444.28,149.45 446.87,147.69 449.46,146.17 452.05,144.83 454.63,143.65 457.22,142.60 459.81,141.66 462.40,140.82 464.99,140.05 465.51,213.92 470.21,208.98 474.90,204.57 479.59,200.61 484.29,197.03 488.98,193.78 493.68,190.82 498.37,188.11 503.06,185.61 507.76,183.31 512.45,181.19 517.14,179.22 521.84,177.38 522.89,177.38 523.68,294.11 527.96,291.81 532.23,289.58 536.51,287.41 540.79,285.29 545.07,283.23 549.34,281.22 553.62,279.27 557.90,277.36 562.17,275.50 566.45,273.68 570.73,271.91 575.00,270.18 576.58,371.40 580.09,370.97 583.60,370.53 587.11,370.08 590.62,369.64 594.13,369.18 597.64,368.73 601.15,368.26 604.66,367.80 608.17,367.32 611.68,366.85 615.19,366.37 618.70,365.88 623.96,386.91 676.60,387.70" fill="none" stroke="#e6ab02" stroke-width="1.6" stroke-opacity="0.68" stroke-linejoin="round"/></g>
<path d="M413.40,384.51L415.73,387.70L413.40,390.88L411.07,387.70Z" fill="#e6ab02" fill-opacity="0.82"/>
<path d="M676.60,384.51L678.93,387.70L676.60,390.88L674.27,387.70Z" fill="#e6ab02" fill-opacity="0.82"/>
<path d="M413.40,127.92L415.73,131.11L413.40,134.29L411.07,131.11Z" fill="#e6ab02" fill-opacity="0.82"/>
<path d="M433.93,124.24L436.26,127.43L433.93,130.61L431.60,127.43Z" fill="#e6ab02" fill-opacity="0.82"/>
<path d="M464.99,136.86L467.31,140.05L464.99,143.23L462.66,140.05Z" fill="#e6ab02" fill-opacity="0.82"/>
<path d="M521.84,170.36L526.97,177.38L521.84,184.40L516.71,177.38Z" fill="#e6ab02" fill-opacity="0.82"/>
<path d="M575.00,267.00L577.33,270.18L575.00,273.37L572.68,270.18Z" fill="#e6ab02" fill-opacity="0.82"/>
<path d="M618.70,362.69L621.02,365.88L618.70,369.06L616.37,365.88Z" fill="#e6ab02" fill-opacity="0.82"/>
<path d="M647.65,384.51L649.98,387.70L647.65,390.88L645.32,387.70Z" fill="#e6ab02" fill-opacity="0.82"/>
<path d="M665.81,384.51L668.14,387.70L665.81,390.88L663.48,387.70Z" fill="#e6ab02" fill-opacity="0.82"/>
<path d="M672.92,384.51L675.24,387.70L672.92,390.88L670.59,387.70Z" fill="#e6ab02" fill-opacity="0.82"/>
<g clip-path="url(#c_prF)"><polyline points="413.40,387.70 413.40,133.48 535.00,133.48 541.97,142.15 545.26,140.57 548.82,152.67 552.11,151.09 554.08,162.13 557.37,160.55 560.92,175.80 564.21,174.23 566.71,185.79 570.00,184.22 573.29,194.73 576.58,193.15 579.35,207.88 582.64,206.30 585.40,221.28 588.69,219.71 591.98,239.16 595.27,237.58 598.03,252.04 601.32,250.47 603.04,264.66 606.33,263.09 609.09,283.07 612.38,281.49 613.04,298.05 616.33,296.47 619.09,313.30 622.38,311.72 623.30,326.44 626.59,324.87 628.83,343.80 632.12,342.22 635.15,354.57 638.44,353.00 640.67,365.35 643.96,363.78 648.04,374.56 651.33,372.98 653.44,374.56 655.02,387.70 676.60,387.70" fill="none" stroke="#a6761d" stroke-width="1.6" stroke-opacity="0.68" stroke-linejoin="round"/></g>
<polygon points="413.40,384.88 416.08,386.83 415.06,389.98 411.74,389.98 410.72,386.83" fill="#a6761d" fill-opacity="0.82"/>
<polygon points="676.60,384.88 679.28,386.83 678.26,389.98 674.94,389.98 673.92,386.83" fill="#a6761d" fill-opacity="0.82"/>
<polygon points="535.00,130.66 537.68,132.61 536.65,135.76 533.34,135.76 532.32,132.61" fill="#a6761d" fill-opacity="0.82"/>
<polygon points="545.26,137.76 547.94,139.70 546.92,142.85 543.61,142.85 542.58,139.70" fill="#a6761d" fill-opacity="0.82"/>
<polygon points="552.11,148.27 554.79,150.22 553.76,153.37 550.45,153.37 549.43,150.22" fill="#a6761d" fill-opacity="0.82"/>
<polygon points="557.37,157.74 560.05,159.68 559.03,162.83 555.71,162.83 554.69,159.68" fill="#a6761d" fill-opacity="0.82"/>
<polygon points="564.21,171.41 566.89,173.35 565.87,176.50 562.56,176.50 561.53,173.35" fill="#a6761d" fill-opacity="0.82"/>
<polygon points="570.00,181.40 572.68,183.34 571.66,186.49 568.35,186.49 567.32,183.34" fill="#a6761d" fill-opacity="0.82"/>
<polygon points="582.64,203.48 585.32,205.43 584.29,208.58 580.98,208.58 579.96,205.43" fill="#a6761d" fill-opacity="0.82"/>
<polygon points="588.69,216.89 591.37,218.84 590.35,221.99 587.04,221.99 586.01,218.84" fill="#a6761d" fill-opacity="0.82"/>
<polygon points="595.27,234.77 597.95,236.71 596.93,239.86 593.62,239.86 592.59,236.71" fill="#a6761d" fill-opacity="0.82"/>
<polygon points="601.32,247.65 604.00,249.60 602.98,252.75 599.67,252.75 598.65,249.60" fill="#a6761d" fill-opacity="0.82"/>
<polygon points="606.33,260.27 609.01,262.21 607.98,265.36 604.67,265.36 603.65,262.21" fill="#a6761d" fill-opacity="0.82"/>
<polygon points="612.38,278.67 615.06,280.62 614.04,283.77 610.72,283.77 609.70,280.62" fill="#a6761d" fill-opacity="0.82"/>
<polygon points="616.33,293.66 619.01,295.60 617.98,298.75 614.67,298.75 613.65,295.60" fill="#a6761d" fill-opacity="0.82"/>
<polygon points="622.38,308.90 625.06,310.85 624.04,314.00 620.72,314.00 619.70,310.85" fill="#a6761d" fill-opacity="0.82"/>
<polygon points="626.59,322.05 629.27,324.00 628.25,327.15 624.94,327.15 623.91,324.00" fill="#a6761d" fill-opacity="0.82"/>
<polygon points="632.12,339.40 634.80,341.35 633.78,344.50 630.46,344.50 629.44,341.35" fill="#a6761d" fill-opacity="0.82"/>
<polygon points="638.44,350.18 641.12,352.13 640.09,355.28 636.78,355.28 635.76,352.13" fill="#a6761d" fill-opacity="0.82"/>
<polygon points="643.96,360.96 646.64,362.91 645.62,366.06 642.31,366.06 641.28,362.91" fill="#a6761d" fill-opacity="0.82"/>
<polygon points="651.33,370.16 654.01,372.11 652.99,375.26 649.68,375.26 648.65,372.11" fill="#a6761d" fill-opacity="0.82"/>
<polygon points="576.58,186.94 582.49,191.24 580.23,198.18 572.93,198.18 570.68,191.24" fill="#a6761d" fill-opacity="0.82"/>
<g clip-path="url(#c_prF)"><polyline points="413.40,387.70 413.40,365.88 487.62,365.88 493.41,365.88 500.26,365.88 502.36,365.88 502.36,387.70 676.60,387.70" fill="none" stroke="#666666" stroke-width="1.6" stroke-opacity="0.68" stroke-linejoin="round"/></g>
<circle cx="413.40" cy="387.70" r="2.45" fill="#fff" stroke="#666666" stroke-width="1.0"/><path d="M410.95,387.70A2.45,2.45 0 0 1 415.85,387.70Z" fill="#666666" fill-opacity="0.9"/>
<circle cx="487.62" cy="365.88" r="2.45" fill="#fff" stroke="#666666" stroke-width="1.0"/><path d="M485.17,365.88A2.45,2.45 0 0 1 490.07,365.88Z" fill="#666666" fill-opacity="0.9"/>
<circle cx="493.41" cy="365.88" r="2.45" fill="#fff" stroke="#666666" stroke-width="1.0"/><path d="M490.96,365.88A2.45,2.45 0 0 1 495.86,365.88Z" fill="#666666" fill-opacity="0.9"/>
<circle cx="500.26" cy="365.88" r="5.40" fill="#fff" stroke="#666666" stroke-width="1.3"/><path d="M494.86,365.88A5.40,5.40 0 0 1 505.66,365.88Z" fill="#666666" fill-opacity="0.85"/>
<circle cx="676.60" cy="387.70" r="2.45" fill="#fff" stroke="#666666" stroke-width="1.0"/><path d="M674.15,387.70A2.45,2.45 0 0 1 679.05,387.70Z" fill="#666666" fill-opacity="0.9"/>
<rect x="406.8" y="118.5" width="276.2" height="275.9" fill="none" stroke="#000" stroke-width="1.3"/>
<text x="413.40" y="412.90" font-size="17" text-anchor="middle" textLength="8.60" lengthAdjust="spacingAndGlyphs">0</text>
<text x="466.04" y="412.90" font-size="17" text-anchor="middle" textLength="21.90" lengthAdjust="spacingAndGlyphs">0.2</text>
<text x="518.68" y="412.90" font-size="17" text-anchor="middle" textLength="21.90" lengthAdjust="spacingAndGlyphs">0.4</text>
<text x="571.32" y="412.90" font-size="17" text-anchor="middle" textLength="21.90" lengthAdjust="spacingAndGlyphs">0.6</text>
<text x="623.96" y="412.90" font-size="17" text-anchor="middle" textLength="21.90" lengthAdjust="spacingAndGlyphs">0.8</text>
<text x="676.60" y="412.90" font-size="17" text-anchor="middle" textLength="8.00" lengthAdjust="spacingAndGlyphs">1</text>
<text x="400.10" y="393.30" font-size="17" text-anchor="end" textLength="8.60" lengthAdjust="spacingAndGlyphs">0</text>
<text x="400.10" y="340.72" font-size="17" text-anchor="end" textLength="21.90" lengthAdjust="spacingAndGlyphs">0.2</text>
<text x="400.10" y="288.14" font-size="17" text-anchor="end" textLength="21.90" lengthAdjust="spacingAndGlyphs">0.4</text>
<text x="400.10" y="235.56" font-size="17" text-anchor="end" textLength="21.90" lengthAdjust="spacingAndGlyphs">0.6</text>
<text x="400.10" y="182.98" font-size="17" text-anchor="end" textLength="21.90" lengthAdjust="spacingAndGlyphs">0.8</text>
<text x="400.10" y="130.40" font-size="17" text-anchor="end" textLength="8.00" lengthAdjust="spacingAndGlyphs">1</text>
<g clip-path="url(#c_rocE)">
<rect x="52.4" y="560.5" width="13.100000000000001" height="221.60000000000002" fill="#e4e4e4" stroke="#111" stroke-width="1.05"/>
<line x1="55.50" y1="775.70" x2="319.00" y2="512.50" stroke="#333" stroke-width="1.4" stroke-dasharray="6.09 6.09"/>
</g>
<g clip-path="url(#c_rocE)"><polyline points="55.50,775.70 55.50,591.46 55.74,586.20 319.00,512.50" fill="none" stroke="#1b9e77" stroke-width="1.6" stroke-opacity="0.68" stroke-linejoin="round"/></g>
<circle cx="55.50" cy="775.70" r="2.60" fill="#1b9e77" fill-opacity="0.82"/>
<circle cx="319.00" cy="512.50" r="2.60" fill="#1b9e77" fill-opacity="0.82"/>
<circle cx="55.50" cy="606.73" r="5.40" fill="#1b9e77" fill-opacity="0.82"/>
<circle cx="55.50" cy="593.57" r="2.60" fill="#1b9e77" fill-opacity="0.82"/>
<circle cx="55.50" cy="587.78" r="2.60" fill="#1b9e77" fill-opacity="0.82"/>
<circle cx="55.74" cy="586.20" r="2.60" fill="#1b9e77" fill-opacity="0.82"/>
<g clip-path="url(#c_rocE)"><polyline points="55.50,775.70 55.50,633.57 55.74,630.94 55.84,608.57 319.00,512.50" fill="none" stroke="#d95f02" stroke-width="1.6" stroke-opacity="0.68" stroke-linejoin="round"/></g>
<rect x="53.05" y="773.25" width="4.90" height="4.90" fill="#d95f02" fill-opacity="0.82"/>
<rect x="316.55" y="510.05" width="4.90" height="4.90" fill="#d95f02" fill-opacity="0.82"/>
<rect x="53.29" y="628.49" width="4.90" height="4.90" fill="#d95f02" fill-opacity="0.82"/>
<rect x="53.29" y="623.23" width="4.90" height="4.90" fill="#d95f02" fill-opacity="0.82"/>
<rect x="53.29" y="617.96" width="4.90" height="4.90" fill="#d95f02" fill-opacity="0.82"/>
<rect x="53.29" y="612.70" width="4.90" height="4.90" fill="#d95f02" fill-opacity="0.82"/>
<rect x="53.29" y="608.75" width="4.90" height="4.90" fill="#d95f02" fill-opacity="0.82"/>
<rect x="50.10" y="622.12" width="10.80" height="10.80" fill="#d95f02" fill-opacity="0.82"/>
<rect x="53.39" y="606.12" width="4.90" height="4.90" fill="#d95f02" fill-opacity="0.82"/>
<g clip-path="url(#c_rocE)"><polyline points="55.50,775.70 55.50,696.74 55.76,686.21 55.76,664.63 56.05,650.15 56.24,641.20 319.00,512.50" fill="none" stroke="#7570b3" stroke-width="1.6" stroke-opacity="0.68" stroke-linejoin="round"/></g>
<circle cx="55.50" cy="775.70" r="2.40" fill="#7570b3" fill-opacity="0.9"/>
<circle cx="319.00" cy="512.50" r="2.40" fill="#7570b3" fill-opacity="0.9"/>
<circle cx="55.76" cy="686.21" r="2.40" fill="#7570b3" fill-opacity="0.9"/>
<circle cx="55.76" cy="664.63" r="2.40" fill="#7570b3" fill-opacity="0.9"/>
<path d="M56.05,646.85L56.05,653.45M53.20,648.50L58.91,651.80M58.91,648.50L53.20,651.80" stroke="#7570b3" stroke-width="1.65" stroke-linecap="round" fill="none"/><circle cx="56.05" cy="650.15" r="1.65" fill="#7570b3"/>
<circle cx="56.24" cy="641.20" r="2.40" fill="#7570b3" fill-opacity="0.9"/>
<g clip-path="url(#c_rocE)"><polyline points="55.50,775.70 55.50,695.16 55.74,639.36 56.29,602.25 57.82,579.09 58.66,572.25 63.67,548.82 77.37,530.40 100.30,520.40 129.28,515.92 162.22,513.55 196.21,512.76 319.00,512.50" fill="none" stroke="#e7298a" stroke-width="1.6" stroke-opacity="0.68" stroke-linejoin="round"/></g>
<path d="M55.50,773.00L58.06,777.32L52.94,777.32Z" fill="#e7298a" fill-opacity="0.82"/>
<path d="M319.00,509.81L321.56,514.12L316.44,514.12Z" fill="#e7298a" fill-opacity="0.82"/>
<path d="M55.50,689.22L61.14,698.72L49.86,698.72Z" fill="#e7298a" fill-opacity="0.82"/>
<path d="M55.74,636.67L58.30,640.98L53.18,640.98Z" fill="#e7298a" fill-opacity="0.82"/>
<path d="M56.29,599.56L58.85,603.87L53.73,603.87Z" fill="#e7298a" fill-opacity="0.82"/>
<path d="M63.67,546.13L66.23,550.44L61.11,550.44Z" fill="#e7298a" fill-opacity="0.82"/>
<path d="M77.37,527.70L79.93,532.01L74.81,532.01Z" fill="#e7298a" fill-opacity="0.82"/>
<path d="M100.30,517.70L102.86,522.01L97.73,522.01Z" fill="#e7298a" fill-opacity="0.82"/>
<path d="M129.28,513.23L131.84,517.54L126.72,517.54Z" fill="#e7298a" fill-opacity="0.82"/>
<path d="M162.22,510.86L164.78,515.17L159.66,515.17Z" fill="#e7298a" fill-opacity="0.82"/>
<path d="M196.21,510.07L198.77,514.38L193.65,514.38Z" fill="#e7298a" fill-opacity="0.82"/>
<path d="M230.20,509.81L232.76,514.12L227.64,514.12Z" fill="#e7298a" fill-opacity="0.82"/>
<path d="M262.08,509.81L264.64,514.12L259.52,514.12Z" fill="#e7298a" fill-opacity="0.82"/>
<path d="M288.43,509.81L290.99,514.12L285.87,514.12Z" fill="#e7298a" fill-opacity="0.82"/>
<path d="M304.51,509.81L307.07,514.12L301.95,514.12Z" fill="#e7298a" fill-opacity="0.82"/>
<path d="M312.41,509.81L314.97,514.12L309.85,514.12Z" fill="#e7298a" fill-opacity="0.82"/>
<g clip-path="url(#c_rocE)"><polyline points="55.50,775.70 55.50,679.11 55.76,678.32 319.00,512.50" fill="none" stroke="#66a61e" stroke-width="1.6" stroke-opacity="0.68" stroke-linejoin="round"/></g>
<path d="M55.50,778.40L58.06,774.08L52.94,774.08Z" fill="#66a61e" fill-opacity="0.82"/>
<path d="M319.00,515.20L321.56,510.88L316.44,510.88Z" fill="#66a61e" fill-opacity="0.82"/>
<path d="M55.50,778.40L58.06,774.08L52.94,774.08Z" fill="#66a61e" fill-opacity="0.82"/>
<path d="M55.50,769.97L58.06,765.66L52.94,765.66Z" fill="#66a61e" fill-opacity="0.82"/>
<path d="M55.50,753.92L58.06,749.61L52.94,749.61Z" fill="#66a61e" fill-opacity="0.82"/>
<path d="M55.50,729.70L58.06,725.39L52.94,725.39Z" fill="#66a61e" fill-opacity="0.82"/>
<path d="M55.50,685.05L61.14,675.54L49.86,675.54Z" fill="#66a61e" fill-opacity="0.82"/>
<g clip-path="url(#c_rocE)"><polyline points="55.50,775.70 55.50,696.74 55.79,654.63 56.32,638.57 57.34,611.73 90.28,566.72 202.53,533.82 273.15,520.92 305.82,515.13 319.00,512.50" fill="none" stroke="#e6ab02" stroke-width="1.6" stroke-opacity="0.68" stroke-linejoin="round"/></g>
<path d="M55.50,772.52L57.83,775.70L55.50,778.88L53.17,775.70Z" fill="#e6ab02" fill-opacity="0.82"/>
<path d="M319.00,509.31L321.33,512.50L319.00,515.68L316.67,512.50Z" fill="#e6ab02" fill-opacity="0.82"/>
<path d="M55.50,757.78L57.83,760.96L55.50,764.15L53.17,760.96Z" fill="#e6ab02" fill-opacity="0.82"/>
<path d="M55.50,735.67L57.83,738.85L55.50,742.04L53.17,738.85Z" fill="#e6ab02" fill-opacity="0.82"/>
<path d="M55.50,689.72L60.63,696.74L55.50,703.76L50.37,696.74Z" fill="#e6ab02" fill-opacity="0.82"/>
<path d="M55.79,651.44L58.12,654.63L55.79,657.81L53.46,654.63Z" fill="#e6ab02" fill-opacity="0.82"/>
<path d="M57.34,608.54L59.67,611.73L57.34,614.91L55.02,611.73Z" fill="#e6ab02" fill-opacity="0.82"/>
<path d="M90.28,563.53L92.61,566.72L90.28,569.90L87.95,566.72Z" fill="#e6ab02" fill-opacity="0.82"/>
<path d="M202.53,530.63L204.86,533.82L202.53,537.00L200.21,533.82Z" fill="#e6ab02" fill-opacity="0.82"/>
<path d="M273.15,517.74L275.48,520.92L273.15,524.11L270.82,520.92Z" fill="#e6ab02" fill-opacity="0.82"/>
<path d="M305.82,511.95L308.15,515.13L305.82,518.32L303.50,515.13Z" fill="#e6ab02" fill-opacity="0.82"/>
<path d="M312.41,510.63L314.74,513.82L312.41,517.00L310.08,513.82Z" fill="#e6ab02" fill-opacity="0.82"/>
<g clip-path="url(#c_rocE)"><polyline points="55.50,775.70 55.50,641.99 55.70,633.05 55.74,624.10 56.00,602.78 56.29,593.83 56.76,583.83 58.93,560.40 319.00,512.50" fill="none" stroke="#a6761d" stroke-width="1.6" stroke-opacity="0.68" stroke-linejoin="round"/></g>
<polygon points="55.50,772.88 58.18,774.83 57.16,777.98 53.84,777.98 52.82,774.83" fill="#a6761d" fill-opacity="0.82"/>
<polygon points="319.00,509.68 321.68,511.63 320.66,514.78 317.34,514.78 316.32,511.63" fill="#a6761d" fill-opacity="0.82"/>
<polygon points="55.50,716.82 58.18,718.77 57.16,721.92 53.84,721.92 52.82,718.77" fill="#a6761d" fill-opacity="0.82"/>
<polygon points="55.50,711.82 58.18,713.77 57.16,716.92 53.84,716.92 52.82,713.77" fill="#a6761d" fill-opacity="0.82"/>
<polygon points="55.50,706.82 58.18,708.77 57.16,711.92 53.84,711.92 52.82,708.77" fill="#a6761d" fill-opacity="0.82"/>
<polygon points="55.50,701.29 58.18,703.24 57.16,706.39 53.84,706.39 52.82,703.24" fill="#a6761d" fill-opacity="0.82"/>
<polygon points="55.50,694.19 58.18,696.13 57.16,699.28 53.84,699.28 52.82,696.13" fill="#a6761d" fill-opacity="0.82"/>
<polygon points="55.50,687.08 58.18,689.03 57.16,692.18 53.84,692.18 52.82,689.03" fill="#a6761d" fill-opacity="0.82"/>
<polygon points="55.50,677.87 58.18,679.81 57.16,682.96 53.84,682.96 52.82,679.81" fill="#a6761d" fill-opacity="0.82"/>
<polygon points="55.50,664.44 58.18,666.39 57.16,669.54 53.84,669.54 52.82,666.39" fill="#a6761d" fill-opacity="0.82"/>
<polygon points="55.50,656.28 58.18,658.23 57.16,661.38 53.84,661.38 52.82,658.23" fill="#a6761d" fill-opacity="0.82"/>
<polygon points="55.50,647.34 58.18,649.28 57.16,652.43 53.84,652.43 52.82,649.28" fill="#a6761d" fill-opacity="0.82"/>
<polygon points="55.50,639.18 58.18,641.12 57.16,644.27 53.84,644.27 52.82,641.12" fill="#a6761d" fill-opacity="0.82"/>
<polygon points="55.50,669.21 61.41,673.50 59.15,680.44 51.85,680.44 49.59,673.50" fill="#a6761d" fill-opacity="0.82"/>
<polygon points="55.70,630.23 58.38,632.17 57.35,635.33 54.04,635.33 53.02,632.17" fill="#a6761d" fill-opacity="0.82"/>
<polygon points="55.74,621.28 58.42,623.23 57.39,626.38 54.08,626.38 53.06,623.23" fill="#a6761d" fill-opacity="0.82"/>
<polygon points="56.00,599.96 58.68,601.91 57.66,605.06 54.34,605.06 53.32,601.91" fill="#a6761d" fill-opacity="0.82"/>
<polygon points="56.29,591.01 58.97,592.96 57.95,596.11 54.63,596.11 53.61,592.96" fill="#a6761d" fill-opacity="0.82"/>
<polygon points="56.76,581.01 59.44,582.96 58.42,586.11 55.11,586.11 54.09,582.96" fill="#a6761d" fill-opacity="0.82"/>
<polygon points="58.93,557.58 61.61,559.53 60.58,562.68 57.27,562.68 56.25,559.53" fill="#a6761d" fill-opacity="0.82"/>
<g clip-path="url(#c_rocE)"><polyline points="55.50,775.70 57.87,728.59 58.08,725.69 58.40,720.43 319.00,512.50" fill="none" stroke="#666666" stroke-width="1.6" stroke-opacity="0.68" stroke-linejoin="round"/></g>
<circle cx="55.50" cy="775.70" r="2.45" fill="#fff" stroke="#666666" stroke-width="1.0"/><path d="M53.05,775.70A2.45,2.45 0 0 1 57.95,775.70Z" fill="#666666" fill-opacity="0.9"/>
<circle cx="57.87" cy="728.59" r="2.45" fill="#fff" stroke="#666666" stroke-width="1.0"/><path d="M55.42,728.59A2.45,2.45 0 0 1 60.32,728.59Z" fill="#666666" fill-opacity="0.9"/>
<circle cx="58.08" cy="725.69" r="2.45" fill="#fff" stroke="#666666" stroke-width="1.0"/><path d="M55.63,725.69A2.45,2.45 0 0 1 60.53,725.69Z" fill="#666666" fill-opacity="0.9"/>
<circle cx="58.40" cy="720.43" r="5.40" fill="#fff" stroke="#666666" stroke-width="1.3"/><path d="M53.00,720.43A5.40,5.40 0 0 1 63.80,720.43Z" fill="#666666" fill-opacity="0.85"/>
<circle cx="319.00" cy="512.50" r="2.45" fill="#fff" stroke="#666666" stroke-width="1.0"/><path d="M316.55,512.50A2.45,2.45 0 0 1 321.45,512.50Z" fill="#666666" fill-opacity="0.9"/>
<rect x="49.4" y="506.2" width="276.20000000000005" height="275.90000000000003" fill="none" stroke="#000" stroke-width="1.3"/>
<text x="55.50" y="800.60" font-size="17" text-anchor="middle" textLength="8.60" lengthAdjust="spacingAndGlyphs">0</text>
<text x="108.20" y="800.60" font-size="17" text-anchor="middle" textLength="21.90" lengthAdjust="spacingAndGlyphs">0.2</text>
<text x="160.90" y="800.60" font-size="17" text-anchor="middle" textLength="21.90" lengthAdjust="spacingAndGlyphs">0.4</text>
<text x="213.60" y="800.60" font-size="17" text-anchor="middle" textLength="21.90" lengthAdjust="spacingAndGlyphs">0.6</text>
<text x="266.30" y="800.60" font-size="17" text-anchor="middle" textLength="21.90" lengthAdjust="spacingAndGlyphs">0.8</text>
<text x="319.00" y="800.60" font-size="17" text-anchor="middle" textLength="8.00" lengthAdjust="spacingAndGlyphs">1</text>
<text x="42.70" y="781.30" font-size="17" text-anchor="end" textLength="8.60" lengthAdjust="spacingAndGlyphs">0</text>
<text x="42.70" y="728.66" font-size="17" text-anchor="end" textLength="21.90" lengthAdjust="spacingAndGlyphs">0.2</text>
<text x="42.70" y="676.02" font-size="17" text-anchor="end" textLength="21.90" lengthAdjust="spacingAndGlyphs">0.4</text>
<text x="42.70" y="623.38" font-size="17" text-anchor="end" textLength="21.90" lengthAdjust="spacingAndGlyphs">0.6</text>
<text x="42.70" y="570.74" font-size="17" text-anchor="end" textLength="21.90" lengthAdjust="spacingAndGlyphs">0.8</text>
<text x="42.70" y="518.10" font-size="17" text-anchor="end" textLength="8.00" lengthAdjust="spacingAndGlyphs">1</text>
<g clip-path="url(#c_prE)">
</g>
<g clip-path="url(#c_prE)"><polyline points="413.40,775.60 413.40,544.69 582.11,544.69 586.32,569.41 595.27,567.30 599.48,616.75 601.85,643.31 602.64,659.88 602.90,672.24 607.90,775.60 676.60,775.60" fill="none" stroke="#1b9e77" stroke-width="1.6" stroke-opacity="0.68" stroke-linejoin="round"/></g>
<circle cx="413.40" cy="775.60" r="2.60" fill="#1b9e77" fill-opacity="0.82"/>
<circle cx="676.60" cy="775.60" r="2.60" fill="#1b9e77" fill-opacity="0.82"/>
<circle cx="582.11" cy="544.69" r="5.40" fill="#1b9e77" fill-opacity="0.82"/>
<circle cx="595.27" cy="567.30" r="2.60" fill="#1b9e77" fill-opacity="0.82"/>
<circle cx="599.48" cy="616.75" r="2.60" fill="#1b9e77" fill-opacity="0.82"/>
<circle cx="601.85" cy="643.31" r="2.60" fill="#1b9e77" fill-opacity="0.82"/>
<circle cx="602.38" cy="654.62" r="2.60" fill="#1b9e77" fill-opacity="0.82"/>
<circle cx="602.64" cy="659.88" r="2.60" fill="#1b9e77" fill-opacity="0.82"/>
<circle cx="602.90" cy="663.83" r="2.60" fill="#1b9e77" fill-opacity="0.82"/>
<circle cx="602.90" cy="667.77" r="2.60" fill="#1b9e77" fill-opacity="0.82"/>
<circle cx="602.90" cy="672.24" r="2.60" fill="#1b9e77" fill-opacity="0.82"/>
<g clip-path="url(#c_prE)"><polyline points="413.40,775.60 413.40,605.97 548.42,605.97 549.74,608.33 556.05,612.01 559.74,614.38 563.42,616.22 564.74,620.43 565.79,625.16 568.16,629.90 570.53,634.63 574.22,639.37 575.27,644.10 575.53,649.10 576.58,653.83 577.64,658.57 578.95,665.14 580.27,673.29 580.80,775.60 676.60,775.60" fill="none" stroke="#d95f02" stroke-width="1.6" stroke-opacity="0.68" stroke-linejoin="round"/></g>
<rect x="550.07" y="607.54" width="4.70" height="4.70" fill="#d95f02" fill-opacity="0.82"/>
<rect x="552.74" y="609.10" width="4.70" height="4.70" fill="#d95f02" fill-opacity="0.82"/>
<rect x="555.38" y="610.74" width="4.70" height="4.70" fill="#d95f02" fill-opacity="0.82"/>
<rect x="558.02" y="612.35" width="4.70" height="4.70" fill="#d95f02" fill-opacity="0.82"/>
<rect x="560.80" y="613.73" width="4.70" height="4.70" fill="#d95f02" fill-opacity="0.82"/>
<rect x="561.91" y="616.53" width="4.70" height="4.70" fill="#d95f02" fill-opacity="0.82"/>
<rect x="562.71" y="619.53" width="4.70" height="4.70" fill="#d95f02" fill-opacity="0.82"/>
<rect x="563.38" y="622.55" width="4.70" height="4.70" fill="#d95f02" fill-opacity="0.82"/>
<rect x="564.71" y="625.35" width="4.70" height="4.70" fill="#d95f02" fill-opacity="0.82"/>
<rect x="566.10" y="628.12" width="4.70" height="4.70" fill="#d95f02" fill-opacity="0.82"/>
<rect x="567.48" y="630.89" width="4.70" height="4.70" fill="#d95f02" fill-opacity="0.82"/>
<rect x="569.13" y="633.50" width="4.70" height="4.70" fill="#d95f02" fill-opacity="0.82"/>
<rect x="571.03" y="635.95" width="4.70" height="4.70" fill="#d95f02" fill-opacity="0.82"/>
<rect x="572.24" y="638.72" width="4.70" height="4.70" fill="#d95f02" fill-opacity="0.82"/>
<rect x="572.92" y="641.75" width="4.70" height="4.70" fill="#d95f02" fill-opacity="0.82"/>
<rect x="573.08" y="644.84" width="4.70" height="4.70" fill="#d95f02" fill-opacity="0.82"/>
<rect x="573.44" y="647.91" width="4.70" height="4.70" fill="#d95f02" fill-opacity="0.82"/>
<rect x="574.11" y="650.94" width="4.70" height="4.70" fill="#d95f02" fill-opacity="0.82"/>
<rect x="574.79" y="653.96" width="4.70" height="4.70" fill="#d95f02" fill-opacity="0.82"/>
<rect x="575.44" y="656.99" width="4.70" height="4.70" fill="#d95f02" fill-opacity="0.82"/>
<rect x="576.05" y="660.03" width="4.70" height="4.70" fill="#d95f02" fill-opacity="0.82"/>
<rect x="576.65" y="663.07" width="4.70" height="4.70" fill="#d95f02" fill-opacity="0.82"/>
<rect x="577.14" y="666.13" width="4.70" height="4.70" fill="#d95f02" fill-opacity="0.82"/>
<rect x="577.64" y="669.19" width="4.70" height="4.70" fill="#d95f02" fill-opacity="0.82"/>
<rect x="410.95" y="773.15" width="4.90" height="4.90" fill="#d95f02" fill-opacity="0.82"/>
<rect x="674.15" y="773.15" width="4.90" height="4.90" fill="#d95f02" fill-opacity="0.82"/>
<rect x="555.92" y="609.77" width="10.80" height="10.80" fill="#d95f02" fill-opacity="0.82"/>
<g clip-path="url(#c_prE)"><polyline points="413.40,775.60 413.40,618.33 479.73,618.33 481.57,676.71 483.37,675.15 485.17,673.62 486.96,672.12 488.76,670.65 490.56,669.21 492.36,667.80 494.16,666.42 495.96,665.06 497.76,663.73 499.55,662.42 501.35,661.14 503.15,659.88 508.15,682.50 509.49,681.71 510.83,680.93 512.17,680.15 513.50,679.39 514.84,678.63 516.18,677.88 517.52,677.14 518.86,676.41 520.19,675.68 521.53,674.97 522.87,674.26 524.21,673.56 528.94,681.71 529.52,681.46 530.09,681.22 530.66,680.97 531.23,680.73 531.80,680.48 532.37,680.24 532.94,680.00 533.51,679.76 534.08,679.52 534.65,679.29 535.22,679.05 535.79,678.82 538.42,683.55 541.05,688.02 543.68,691.97 546.84,696.17 547.63,699.33 550.26,775.60 676.60,775.60" fill="none" stroke="#7570b3" stroke-width="1.6" stroke-opacity="0.68" stroke-linejoin="round"/></g>
<circle cx="413.40" cy="775.60" r="2.40" fill="#7570b3" fill-opacity="0.9"/>
<circle cx="676.60" cy="775.60" r="2.40" fill="#7570b3" fill-opacity="0.9"/>
<circle cx="479.73" cy="618.33" r="2.40" fill="#7570b3" fill-opacity="0.9"/>
<circle cx="503.15" cy="659.88" r="2.40" fill="#7570b3" fill-opacity="0.9"/>
<circle cx="524.21" cy="673.56" r="2.40" fill="#7570b3" fill-opacity="0.9"/>
<path d="M535.79,674.53L535.79,683.11M532.07,676.67L539.50,680.96M539.50,676.67L532.07,680.96" stroke="#7570b3" stroke-width="2.15" stroke-linecap="round" fill="none"/><circle cx="535.79" cy="678.82" r="2.15" fill="#7570b3"/>
<circle cx="538.42" cy="683.55" r="2.40" fill="#7570b3" fill-opacity="0.9"/>
<circle cx="539.74" cy="686.18" r="2.40" fill="#7570b3" fill-opacity="0.9"/>
<circle cx="541.05" cy="688.02" r="2.40" fill="#7570b3" fill-opacity="0.9"/>
<circle cx="542.37" cy="690.12" r="2.40" fill="#7570b3" fill-opacity="0.9"/>
<circle cx="543.68" cy="691.97" r="2.40" fill="#7570b3" fill-opacity="0.9"/>
<circle cx="545.00" cy="694.07" r="2.40" fill="#7570b3" fill-opacity="0.9"/>
<circle cx="546.84" cy="696.17" r="2.40" fill="#7570b3" fill-opacity="0.9"/>
<g clip-path="url(#c_prE)"><polyline points="413.40,775.60 413.40,569.93 494.99,569.93 497.62,724.58 501.86,722.54 506.09,720.54 510.32,718.58 514.56,716.65 518.79,714.77 523.02,712.91 527.26,711.09 531.49,709.31 535.72,707.56 539.96,705.84 544.19,704.15 548.42,702.49 550.00,754.03 552.87,753.63 555.75,753.23 558.62,752.83 561.49,752.43 564.37,752.03 567.24,751.64 570.11,751.24 572.99,750.85 575.86,750.46 578.73,750.07 581.61,749.68 584.48,749.30 586.06,766.92 588.47,766.85 590.88,766.78 593.30,766.71 595.71,766.65 598.12,766.58 600.54,766.51 602.95,766.45 605.36,766.38 607.77,766.32 610.19,766.26 612.60,766.19 615.01,766.13 617.38,772.44 637.12,772.44 650.28,774.28 663.44,774.55 676.60,775.60" fill="none" stroke="#e7298a" stroke-width="1.6" stroke-opacity="0.68" stroke-linejoin="round"/></g>
<path d="M413.40,772.90L415.96,777.22L410.84,777.22Z" fill="#e7298a" fill-opacity="0.82"/>
<path d="M676.60,772.90L679.16,777.22L674.04,777.22Z" fill="#e7298a" fill-opacity="0.82"/>
<path d="M494.99,562.68L500.63,572.18L489.35,572.18Z" fill="#e7298a" fill-opacity="0.82"/>
<path d="M548.42,699.79L550.98,704.10L545.86,704.10Z" fill="#e7298a" fill-opacity="0.82"/>
<path d="M584.48,746.61L587.04,750.92L581.92,750.92Z" fill="#e7298a" fill-opacity="0.82"/>
<path d="M615.01,763.44L617.57,767.75L612.45,767.75Z" fill="#e7298a" fill-opacity="0.82"/>
<path d="M639.75,769.75L642.31,774.06L637.19,774.06Z" fill="#e7298a" fill-opacity="0.82"/>
<path d="M658.18,771.33L660.74,775.64L655.62,775.64Z" fill="#e7298a" fill-opacity="0.82"/>
<path d="M671.34,772.12L673.90,776.43L668.78,776.43Z" fill="#e7298a" fill-opacity="0.82"/>
<g clip-path="url(#c_prE)"><polyline points="413.40,775.60 413.40,512.60 421.30,512.60 423.93,521.28 425.02,520.44 426.12,519.75 427.22,519.16 428.31,518.66 429.41,518.22 430.51,517.84 431.60,517.50 432.70,517.21 433.80,516.94 434.89,516.70 435.99,516.48 437.09,516.28 439.72,543.90 441.47,542.10 443.23,540.49 444.98,539.04 446.74,537.73 448.49,536.54 450.25,535.45 452.00,534.45 453.76,533.53 455.51,532.68 457.27,531.89 459.02,531.16 460.78,530.48 461.30,570.20 463.14,568.46 464.99,566.83 466.83,565.28 468.67,563.82 470.51,562.43 472.36,561.11 474.20,559.86 476.04,558.67 477.88,557.53 479.73,556.44 481.57,555.41 483.41,554.42 486.31,592.03 487.21,591.40 488.10,590.79 489.00,590.18 489.90,589.59 490.80,589.01 491.70,588.43 492.60,587.87 493.50,587.32 494.40,586.77 495.30,586.23 496.20,585.71 497.10,585.19 497.89,606.23 498.37,605.86 498.85,605.50 499.33,605.14 499.82,604.79 500.30,604.43 500.78,604.08 501.26,603.73 501.75,603.38 502.23,603.04 502.71,602.70 503.20,602.36 503.68,602.02 508.68,612.01 509.73,613.86 513.42,775.60 676.60,775.60" fill="none" stroke="#66a61e" stroke-width="1.6" stroke-opacity="0.68" stroke-linejoin="round"/></g>
<path d="M413.40,778.30L415.96,773.98L410.84,773.98Z" fill="#66a61e" fill-opacity="0.82"/>
<path d="M676.60,778.30L679.16,773.98L674.04,773.98Z" fill="#66a61e" fill-opacity="0.82"/>
<path d="M414.19,515.30L416.75,510.98L411.63,510.98Z" fill="#66a61e" fill-opacity="0.82"/>
<path d="M421.30,515.30L423.86,510.98L418.74,510.98Z" fill="#66a61e" fill-opacity="0.82"/>
<path d="M437.09,518.98L439.65,514.67L434.53,514.67Z" fill="#66a61e" fill-opacity="0.82"/>
<path d="M460.78,533.18L463.34,528.87L458.22,528.87Z" fill="#66a61e" fill-opacity="0.82"/>
<path d="M483.41,557.11L485.97,552.80L480.85,552.80Z" fill="#66a61e" fill-opacity="0.82"/>
<path d="M497.10,587.88L499.66,583.57L494.54,583.57Z" fill="#66a61e" fill-opacity="0.82"/>
<path d="M503.68,604.72L506.24,600.40L501.12,600.40Z" fill="#66a61e" fill-opacity="0.82"/>
<path d="M508.68,617.95L514.32,608.45L503.04,608.45Z" fill="#66a61e" fill-opacity="0.82"/>
<g clip-path="url(#c_prE)"><polyline points="413.40,775.60 413.40,517.86 418.40,531.54 419.12,529.17 419.85,527.30 420.57,525.79 421.30,524.54 422.02,523.50 422.74,522.60 423.47,521.84 424.19,521.17 424.91,520.58 425.64,520.06 426.36,519.59 427.09,519.17 428.93,569.41 430.60,564.84 432.26,560.92 433.93,557.52 435.60,554.55 437.26,551.93 438.93,549.60 440.60,547.51 442.26,545.63 443.93,543.93 445.60,542.39 447.27,540.98 448.93,539.69 450.25,645.94 453.58,640.09 456.92,634.71 460.25,629.75 463.58,625.15 466.92,620.88 470.25,616.90 473.59,613.19 476.92,609.72 480.25,606.46 483.59,603.40 486.92,600.53 490.25,597.81 492.10,718.53 495.50,716.57 498.90,714.63 502.30,712.74 505.70,710.87 509.10,709.03 512.49,707.22 515.89,705.44 519.29,703.69 522.69,701.97 526.09,700.28 529.49,698.61 532.89,696.96 533.68,766.92 537.28,766.61 540.88,766.30 544.47,765.98 548.07,765.66 551.67,765.34 555.26,765.02 558.86,764.69 562.46,764.35 566.06,764.01 569.65,763.67 573.25,763.33 576.85,762.98 580.27,775.60 676.60,775.60" fill="none" stroke="#e6ab02" stroke-width="1.6" stroke-opacity="0.68" stroke-linejoin="round"/></g>
<path d="M413.40,772.42L415.73,775.60L413.40,778.78L411.07,775.60Z" fill="#e6ab02" fill-opacity="0.82"/>
<path d="M676.60,772.42L678.93,775.60L676.60,778.78L674.27,775.60Z" fill="#e6ab02" fill-opacity="0.82"/>
<path d="M414.19,514.68L416.52,517.86L414.19,521.04L411.86,517.86Z" fill="#e6ab02" fill-opacity="0.82"/>
<path d="M427.09,515.99L429.41,519.17L427.09,522.36L424.76,519.17Z" fill="#e6ab02" fill-opacity="0.82"/>
<path d="M448.93,536.50L451.26,539.69L448.93,542.87L446.60,539.69Z" fill="#e6ab02" fill-opacity="0.82"/>
<path d="M490.25,590.79L495.38,597.81L490.25,604.83L485.12,597.81Z" fill="#e6ab02" fill-opacity="0.82"/>
<path d="M532.89,693.78L535.22,696.96L532.89,700.15L530.57,696.96Z" fill="#e6ab02" fill-opacity="0.82"/>
<path d="M576.85,759.79L579.17,762.98L576.85,766.16L574.52,762.98Z" fill="#e6ab02" fill-opacity="0.82"/>
<path d="M620.01,772.42L622.34,775.60L620.01,778.78L617.68,775.60Z" fill="#e6ab02" fill-opacity="0.82"/>
<path d="M654.23,772.42L656.56,775.60L654.23,778.78L651.90,775.60Z" fill="#e6ab02" fill-opacity="0.82"/>
<path d="M668.70,772.42L671.03,775.60L668.70,778.78L666.38,775.60Z" fill="#e6ab02" fill-opacity="0.82"/>
<g clip-path="url(#c_prE)"><polyline points="413.40,775.60 413.40,512.60 468.67,512.60 471.57,516.55 481.83,515.49 487.89,523.38 491.83,539.43 491.83,558.10 498.68,555.47 506.31,575.46 507.89,595.71 514.21,592.03 518.94,616.22 521.31,614.12 523.68,637.52 529.21,633.05 534.47,659.62 537.37,658.57 539.74,675.92 548.29,672.77 549.90,687.76 554.61,685.13 555.40,706.43 563.95,704.06 565.53,716.69 570.27,715.64 571.85,729.31 577.37,727.47 581.32,737.99 585.27,736.94 586.85,749.83 594.22,748.51 597.01,756.93 604.09,755.35 607.90,761.40 615.01,761.40 618.17,766.92 628.43,766.39 629.22,775.60 676.60,775.60" fill="none" stroke="#a6761d" stroke-width="1.6" stroke-opacity="0.68" stroke-linejoin="round"/></g>
<polygon points="413.40,772.78 416.08,774.73 415.06,777.88 411.74,777.88 410.72,774.73" fill="#a6761d" fill-opacity="0.82"/>
<polygon points="676.60,772.78 679.28,774.73 678.26,777.88 674.94,777.88 673.92,774.73" fill="#a6761d" fill-opacity="0.82"/>
<polygon points="468.67,509.78 471.35,511.73 470.33,514.88 467.02,514.88 465.99,511.73" fill="#a6761d" fill-opacity="0.82"/>
<polygon points="481.83,512.68 484.51,514.62 483.49,517.77 480.18,517.77 479.15,514.62" fill="#a6761d" fill-opacity="0.82"/>
<polygon points="487.89,520.57 490.57,522.51 489.54,525.66 486.23,525.66 485.21,522.51" fill="#a6761d" fill-opacity="0.82"/>
<polygon points="491.83,536.61 494.51,538.56 493.49,541.71 490.18,541.71 489.15,538.56" fill="#a6761d" fill-opacity="0.82"/>
<polygon points="498.68,552.65 501.36,554.60 500.33,557.75 497.02,557.75 496.00,554.60" fill="#a6761d" fill-opacity="0.82"/>
<polygon points="506.31,572.64 508.99,574.59 507.97,577.74 504.65,577.74 503.63,574.59" fill="#a6761d" fill-opacity="0.82"/>
<polygon points="514.21,585.82 520.11,590.11 517.86,597.05 510.56,597.05 508.30,590.11" fill="#a6761d" fill-opacity="0.82"/>
<polygon points="521.31,611.30 523.99,613.25 522.97,616.40 519.66,616.40 518.63,613.25" fill="#a6761d" fill-opacity="0.82"/>
<polygon points="529.21,630.24 531.89,632.18 530.86,635.33 527.55,635.33 526.53,632.18" fill="#a6761d" fill-opacity="0.82"/>
<polygon points="537.37,655.75 540.05,657.69 539.02,660.84 535.71,660.84 534.69,657.69" fill="#a6761d" fill-opacity="0.82"/>
<polygon points="548.29,669.95 550.97,671.90 549.95,675.05 546.63,675.05 545.61,671.90" fill="#a6761d" fill-opacity="0.82"/>
<polygon points="554.61,682.31 557.29,684.26 556.26,687.41 552.95,687.41 551.93,684.26" fill="#a6761d" fill-opacity="0.82"/>
<polygon points="563.95,701.25 566.63,703.19 565.61,706.34 562.29,706.34 561.27,703.19" fill="#a6761d" fill-opacity="0.82"/>
<polygon points="570.27,712.82 572.95,714.77 571.92,717.92 568.61,717.92 567.59,714.77" fill="#a6761d" fill-opacity="0.82"/>
<polygon points="577.37,724.65 580.05,726.60 579.03,729.75 575.72,729.75 574.69,726.60" fill="#a6761d" fill-opacity="0.82"/>
<polygon points="585.27,734.12 587.95,736.07 586.93,739.22 583.61,739.22 582.59,736.07" fill="#a6761d" fill-opacity="0.82"/>
<polygon points="594.22,745.69 596.90,747.64 595.87,750.79 592.56,750.79 591.54,747.64" fill="#a6761d" fill-opacity="0.82"/>
<polygon points="604.09,752.53 606.77,754.48 605.74,757.63 602.43,757.63 601.41,754.48" fill="#a6761d" fill-opacity="0.82"/>
<polygon points="615.01,758.58 617.69,760.53 616.67,763.68 613.36,763.68 612.33,760.53" fill="#a6761d" fill-opacity="0.82"/>
<polygon points="628.43,763.58 631.11,765.52 630.09,768.67 626.78,768.67 625.75,765.52" fill="#a6761d" fill-opacity="0.82"/>
<g clip-path="url(#c_prE)"><polyline points="413.40,775.60 413.40,765.08 459.72,765.08 467.62,765.08 471.30,775.60 676.60,775.60" fill="none" stroke="#666666" stroke-width="1.6" stroke-opacity="0.68" stroke-linejoin="round"/></g>
<circle cx="413.40" cy="775.60" r="2.45" fill="#fff" stroke="#666666" stroke-width="1.0"/><path d="M410.95,775.60A2.45,2.45 0 0 1 415.85,775.60Z" fill="#666666" fill-opacity="0.9"/>
<circle cx="459.72" cy="765.08" r="2.45" fill="#fff" stroke="#666666" stroke-width="1.0"/><path d="M457.27,765.08A2.45,2.45 0 0 1 462.17,765.08Z" fill="#666666" fill-opacity="0.9"/>
<circle cx="467.62" cy="765.08" r="5.40" fill="#fff" stroke="#666666" stroke-width="1.3"/><path d="M462.22,765.08A5.40,5.40 0 0 1 473.02,765.08Z" fill="#666666" fill-opacity="0.85"/>
<circle cx="676.60" cy="775.60" r="2.45" fill="#fff" stroke="#666666" stroke-width="1.0"/><path d="M674.15,775.60A2.45,2.45 0 0 1 679.05,775.60Z" fill="#666666" fill-opacity="0.9"/>
<rect x="406.8" y="506.2" width="276.2" height="275.90000000000003" fill="none" stroke="#000" stroke-width="1.3"/>
<text x="413.40" y="800.60" font-size="17" text-anchor="middle" textLength="8.60" lengthAdjust="spacingAndGlyphs">0</text>
<text x="466.04" y="800.60" font-size="17" text-anchor="middle" textLength="21.90" lengthAdjust="spacingAndGlyphs">0.2</text>
<text x="518.68" y="800.60" font-size="17" text-anchor="middle" textLength="21.90" lengthAdjust="spacingAndGlyphs">0.4</text>
<text x="571.32" y="800.60" font-size="17" text-anchor="middle" textLength="21.90" lengthAdjust="spacingAndGlyphs">0.6</text>
<text x="623.96" y="800.60" font-size="17" text-anchor="middle" textLength="21.90" lengthAdjust="spacingAndGlyphs">0.8</text>
<text x="676.60" y="800.60" font-size="17" text-anchor="middle" textLength="8.00" lengthAdjust="spacingAndGlyphs">1</text>
<text x="400.10" y="781.20" font-size="17" text-anchor="end" textLength="8.60" lengthAdjust="spacingAndGlyphs">0</text>
<text x="400.10" y="728.60" font-size="17" text-anchor="end" textLength="21.90" lengthAdjust="spacingAndGlyphs">0.2</text>
<text x="400.10" y="676.00" font-size="17" text-anchor="end" textLength="21.90" lengthAdjust="spacingAndGlyphs">0.4</text>
<text x="400.10" y="623.40" font-size="17" text-anchor="end" textLength="21.90" lengthAdjust="spacingAndGlyphs">0.6</text>
<text x="400.10" y="570.80" font-size="17" text-anchor="end" textLength="21.90" lengthAdjust="spacingAndGlyphs">0.8</text>
<text x="400.10" y="518.20" font-size="17" text-anchor="end" textLength="8.00" lengthAdjust="spacingAndGlyphs">1</text>
<line x1="65.5" y1="289.7" x2="189.3" y2="298.5" stroke="#777" stroke-width="0.9"/>
<rect x="196.6" y="202.4" width="137.9" height="172.6" fill="#f1f1f1"/>
<line x1="207.90" y1="202.4" x2="207.90" y2="375.0" stroke="#cccccc" stroke-width="1.1"/>
<line x1="236.00" y1="202.4" x2="236.00" y2="375.0" stroke="#cccccc" stroke-width="1.1"/>
<line x1="264.10" y1="202.4" x2="264.10" y2="375.0" stroke="#cccccc" stroke-width="1.1"/>
<line x1="292.20" y1="202.4" x2="292.20" y2="375.0" stroke="#cccccc" stroke-width="1.1"/>
<line x1="320.30" y1="202.4" x2="320.30" y2="375.0" stroke="#cccccc" stroke-width="1.1"/>
<line x1="196.6" y1="375.00" x2="334.5" y2="375.00" stroke="#cccccc" stroke-width="1.1"/>
<line x1="196.6" y1="329.20" x2="334.5" y2="329.20" stroke="#cccccc" stroke-width="1.1"/>
<line x1="196.6" y1="283.40" x2="334.5" y2="283.40" stroke="#cccccc" stroke-width="1.1"/>
<line x1="196.6" y1="237.60" x2="334.5" y2="237.60" stroke="#cccccc" stroke-width="1.1"/>
<line x1="207.90" y1="375.0" x2="207.90" y2="370.5" stroke="#777" stroke-width="0.9"/>
<line x1="207.90" y1="202.4" x2="207.90" y2="206.9" stroke="#777" stroke-width="0.9"/>
<line x1="236.00" y1="375.0" x2="236.00" y2="370.5" stroke="#777" stroke-width="0.9"/>
<line x1="236.00" y1="202.4" x2="236.00" y2="206.9" stroke="#777" stroke-width="0.9"/>
<line x1="264.10" y1="375.0" x2="264.10" y2="370.5" stroke="#777" stroke-width="0.9"/>
<line x1="264.10" y1="202.4" x2="264.10" y2="206.9" stroke="#777" stroke-width="0.9"/>
<line x1="292.20" y1="375.0" x2="292.20" y2="370.5" stroke="#777" stroke-width="0.9"/>
<line x1="292.20" y1="202.4" x2="292.20" y2="206.9" stroke="#777" stroke-width="0.9"/>
<line x1="320.30" y1="375.0" x2="320.30" y2="370.5" stroke="#777" stroke-width="0.9"/>
<line x1="320.30" y1="202.4" x2="320.30" y2="206.9" stroke="#777" stroke-width="0.9"/>
<line x1="196.6" y1="375.00" x2="201.1" y2="375.00" stroke="#777" stroke-width="0.9"/>
<line x1="334.5" y1="375.00" x2="330.0" y2="375.00" stroke="#777" stroke-width="0.9"/>
<line x1="196.6" y1="329.20" x2="201.1" y2="329.20" stroke="#777" stroke-width="0.9"/>
<line x1="334.5" y1="329.20" x2="330.0" y2="329.20" stroke="#777" stroke-width="0.9"/>
<line x1="196.6" y1="283.40" x2="201.1" y2="283.40" stroke="#777" stroke-width="0.9"/>
<line x1="334.5" y1="283.40" x2="330.0" y2="283.40" stroke="#777" stroke-width="0.9"/>
<line x1="196.6" y1="237.60" x2="201.1" y2="237.60" stroke="#777" stroke-width="0.9"/>
<line x1="334.5" y1="237.60" x2="330.0" y2="237.60" stroke="#777" stroke-width="0.9"/>
<g clip-path="url(#ci_rocF)">
<line x1="207.90" y1="375.00" x2="5827.90" y2="146.00" stroke="#333" stroke-width="1.4" stroke-dasharray="6.09 6.09"/>
</g>
<g clip-path="url(#ci_rocF)"><polyline points="207.90,176.91 292.20,176.69 5827.90,146.00" fill="none" stroke="#1b9e77" stroke-width="1.6" stroke-opacity="0.68" stroke-linejoin="round"/></g>
<circle cx="207.90" cy="375.00" r="2.60" fill="#1b9e77" fill-opacity="0.82"/>
<g clip-path="url(#ci_rocF)"><polyline points="207.90,202.10 236.00,196.38 292.20,191.80 5827.90,146.00" fill="none" stroke="#d95f02" stroke-width="1.6" stroke-opacity="0.68" stroke-linejoin="round"/></g>
<rect x="205.45" y="372.55" width="4.90" height="4.90" fill="#d95f02" fill-opacity="0.82"/>
<rect x="205.45" y="207.67" width="4.90" height="4.90" fill="#d95f02" fill-opacity="0.82"/>
<rect x="205.45" y="204.23" width="4.90" height="4.90" fill="#d95f02" fill-opacity="0.82"/>
<rect x="202.50" y="196.70" width="10.80" height="10.80" fill="#d95f02" fill-opacity="0.82"/>
<g clip-path="url(#ci_rocF)"><polyline points="207.90,260.50 213.80,249.28 215.77,234.85 213.52,227.75 219.14,221.80 5827.90,146.00" fill="none" stroke="#7570b3" stroke-width="1.6" stroke-opacity="0.68" stroke-linejoin="round"/></g>
<circle cx="207.90" cy="375.00" r="2.40" fill="#7570b3" fill-opacity="0.9"/>
<circle cx="213.80" cy="249.28" r="2.40" fill="#7570b3" fill-opacity="0.9"/>
<circle cx="215.49" cy="234.39" r="2.40" fill="#7570b3" fill-opacity="0.9"/>
<circle cx="213.52" cy="227.75" r="2.40" fill="#7570b3" fill-opacity="0.9"/>
<path d="M219.14,218.50L219.14,225.10M216.28,220.15L222.00,223.45M222.00,220.15L216.28,223.45" stroke="#7570b3" stroke-width="1.65" stroke-linecap="round" fill="none"/><circle cx="219.14" cy="221.80" r="1.65" fill="#7570b3"/>
<g clip-path="url(#ci_rocF)"><polyline points="207.90,265.31 213.52,217.91 219.70,202.10 236.00,191.80 292.20,176.91 342.78,161.34 561.96,153.56 949.74,149.21 1466.78,147.14 2073.74,146.00 5827.90,146.00" fill="none" stroke="#e7298a" stroke-width="1.6" stroke-opacity="0.68" stroke-linejoin="round"/></g>
<path d="M207.90,372.31L210.46,376.62L205.34,376.62Z" fill="#e7298a" fill-opacity="0.82"/>
<path d="M207.90,259.37L213.54,268.87L202.26,268.87Z" fill="#e7298a" fill-opacity="0.82"/>
<path d="M213.52,215.21L216.08,219.52L210.96,219.52Z" fill="#e7298a" fill-opacity="0.82"/>
<g clip-path="url(#ci_rocF)"><polyline points="207.90,254.77 5827.90,146.00" fill="none" stroke="#66a61e" stroke-width="1.6" stroke-opacity="0.68" stroke-linejoin="round"/></g>
<path d="M207.90,377.69L210.46,373.38L205.34,373.38Z" fill="#66a61e" fill-opacity="0.82"/>
<path d="M207.90,377.69L210.46,373.38L205.34,373.38Z" fill="#66a61e" fill-opacity="0.82"/>
<path d="M207.90,366.70L210.46,362.39L205.34,362.39Z" fill="#66a61e" fill-opacity="0.82"/>
<path d="M207.90,344.26L210.46,339.95L205.34,339.95Z" fill="#66a61e" fill-opacity="0.82"/>
<path d="M207.90,315.18L210.46,310.87L205.34,310.87Z" fill="#66a61e" fill-opacity="0.82"/>
<path d="M207.90,289.30L210.46,284.99L205.34,284.99Z" fill="#66a61e" fill-opacity="0.82"/>
<path d="M207.90,260.71L213.54,251.21L202.26,251.21Z" fill="#66a61e" fill-opacity="0.82"/>
<g clip-path="url(#ci_rocF)"><polyline points="207.90,279.97 211.27,253.17 213.52,234.85 238.81,194.09 916.02,170.50 3574.28,155.39 4939.94,149.66 5501.94,146.92 5827.90,146.00" fill="none" stroke="#e6ab02" stroke-width="1.6" stroke-opacity="0.68" stroke-linejoin="round"/></g>
<path d="M207.90,371.81L210.23,375.00L207.90,378.19L205.57,375.00Z" fill="#e6ab02" fill-opacity="0.82"/>
<path d="M207.90,353.72L210.23,356.91L207.90,360.09L205.57,356.91Z" fill="#e6ab02" fill-opacity="0.82"/>
<path d="M207.90,326.47L210.23,329.66L207.90,332.84L205.57,329.66Z" fill="#e6ab02" fill-opacity="0.82"/>
<path d="M207.90,272.95L213.03,279.97L207.90,286.99L202.77,279.97Z" fill="#e6ab02" fill-opacity="0.82"/>
<path d="M211.27,249.99L213.60,253.17L211.27,256.36L208.94,253.17Z" fill="#e6ab02" fill-opacity="0.82"/>
<path d="M213.52,231.67L215.85,234.85L213.52,238.04L211.19,234.85Z" fill="#e6ab02" fill-opacity="0.82"/>
<g clip-path="url(#ci_rocF)"><polyline points="207.90,173.48 236.00,172.79 269.72,167.07 5827.90,146.00" fill="none" stroke="#a6761d" stroke-width="1.6" stroke-opacity="0.68" stroke-linejoin="round"/></g>
<polygon points="207.90,372.18 210.58,374.13 209.56,377.28 206.24,377.28 205.22,374.13" fill="#a6761d" fill-opacity="0.82"/>
<polygon points="207.90,265.70 210.58,267.64 209.56,270.79 206.24,270.79 205.22,267.64" fill="#a6761d" fill-opacity="0.82"/>
<polygon points="207.90,261.58 210.58,263.52 209.56,266.67 206.24,266.67 205.22,263.52" fill="#a6761d" fill-opacity="0.82"/>
<polygon points="207.90,257.45 210.58,259.40 209.56,262.55 206.24,262.55 205.22,259.40" fill="#a6761d" fill-opacity="0.82"/>
<polygon points="207.90,254.02 210.58,255.97 209.56,259.12 206.24,259.12 205.22,255.97" fill="#a6761d" fill-opacity="0.82"/>
<polygon points="207.90,249.67 210.58,251.61 209.56,254.76 206.24,254.76 205.22,251.61" fill="#a6761d" fill-opacity="0.82"/>
<polygon points="207.90,245.55 210.58,247.49 209.56,250.64 206.24,250.64 205.22,247.49" fill="#a6761d" fill-opacity="0.82"/>
<polygon points="207.90,242.11 210.58,244.06 209.56,247.21 206.24,247.21 205.22,244.06" fill="#a6761d" fill-opacity="0.82"/>
<polygon points="207.90,238.90 210.58,240.85 209.56,244.00 206.24,244.00 205.22,240.85" fill="#a6761d" fill-opacity="0.82"/>
<polygon points="207.90,234.55 210.58,236.50 209.56,239.65 206.24,239.65 205.22,236.50" fill="#a6761d" fill-opacity="0.82"/>
<polygon points="207.90,230.43 210.58,232.38 209.56,235.53 206.24,235.53 205.22,232.38" fill="#a6761d" fill-opacity="0.82"/>
<polygon points="207.90,227.91 210.58,229.86 209.56,233.01 206.24,233.01 205.22,229.86" fill="#a6761d" fill-opacity="0.82"/>
<polygon points="207.90,222.87 210.58,224.82 209.56,227.97 206.24,227.97 205.22,224.82" fill="#a6761d" fill-opacity="0.82"/>
<polygon points="207.90,218.75 210.58,220.70 209.56,223.85 206.24,223.85 205.22,220.70" fill="#a6761d" fill-opacity="0.82"/>
<polygon points="207.90,212.80 210.58,214.75 209.56,217.90 206.24,217.90 205.22,214.75" fill="#a6761d" fill-opacity="0.82"/>
<polygon points="207.90,207.76 210.58,209.71 209.56,212.86 206.24,212.86 205.22,209.71" fill="#a6761d" fill-opacity="0.82"/>
<polygon points="213.18,203.41 215.86,205.36 214.84,208.51 211.53,208.51 210.50,205.36" fill="#a6761d" fill-opacity="0.82"/>
<polygon points="207.90,225.66 213.81,229.96 211.55,236.90 204.25,236.90 201.99,229.96" fill="#a6761d" fill-opacity="0.82"/>
<g clip-path="url(#ci_rocF)"><polyline points="207.90,375.00 258.48,309.51 257.92,303.55 263.54,297.60 269.72,296.22 5827.90,146.00" fill="none" stroke="#666666" stroke-width="1.6" stroke-opacity="0.68" stroke-linejoin="round"/></g>
<circle cx="207.90" cy="375.00" r="2.45" fill="#fff" stroke="#666666" stroke-width="1.0"/><path d="M205.45,375.00A2.45,2.45 0 0 1 210.35,375.00Z" fill="#666666" fill-opacity="0.9"/>
<circle cx="258.48" cy="309.51" r="2.45" fill="#fff" stroke="#666666" stroke-width="1.0"/><path d="M256.03,309.51A2.45,2.45 0 0 1 260.93,309.51Z" fill="#666666" fill-opacity="0.9"/>
<circle cx="257.92" cy="303.55" r="2.45" fill="#fff" stroke="#666666" stroke-width="1.0"/><path d="M255.47,303.55A2.45,2.45 0 0 1 260.37,303.55Z" fill="#666666" fill-opacity="0.9"/>
<circle cx="269.72" cy="296.22" r="2.45" fill="#fff" stroke="#666666" stroke-width="1.0"/><path d="M267.27,296.22A2.45,2.45 0 0 1 272.17,296.22Z" fill="#666666" fill-opacity="0.9"/>
<circle cx="263.54" cy="297.60" r="5.40" fill="#fff" stroke="#666666" stroke-width="1.3"/><path d="M258.14,297.60A5.40,5.40 0 0 1 268.94,297.60Z" fill="#666666" fill-opacity="0.85"/>
<rect x="196.6" y="202.4" width="137.9" height="172.6" fill="none" stroke="#000" stroke-width="1.3"/>
<text x="207.90" y="389.00" font-size="14" text-anchor="middle" textLength="6.80" lengthAdjust="spacingAndGlyphs">0</text>
<text x="264.10" y="389.00" font-size="14" text-anchor="middle" textLength="6.20" lengthAdjust="spacingAndGlyphs">1</text>
<text x="320.30" y="389.00" font-size="14" text-anchor="middle" textLength="6.80" lengthAdjust="spacingAndGlyphs">2</text>
<text x="192.50" y="379.60" font-size="14" text-anchor="end" textLength="6.80" lengthAdjust="spacingAndGlyphs">0</text>
<text x="192.50" y="333.80" font-size="14" text-anchor="end" textLength="20.30" lengthAdjust="spacingAndGlyphs">0.2</text>
<text x="192.50" y="288.00" font-size="14" text-anchor="end" textLength="20.30" lengthAdjust="spacingAndGlyphs">0.4</text>
<text x="192.50" y="242.20" font-size="14" text-anchor="end" textLength="20.30" lengthAdjust="spacingAndGlyphs">0.6</text>
<text x="325.80" y="389.00" font-size="14" text-anchor="start" textLength="21.50" lengthAdjust="spacingAndGlyphs">×10</text>
<text x="348.80" y="382.90" font-size="11" text-anchor="start" textLength="12.80" lengthAdjust="spacingAndGlyphs">−2</text>
<line x1="65.7" y1="677.2" x2="189.5" y2="686.6" stroke="#777" stroke-width="0.9"/>
<rect x="196.7" y="588.9" width="137.40000000000003" height="171.60000000000002" fill="#f1f1f1"/>
<line x1="207.90" y1="588.9" x2="207.90" y2="760.5" stroke="#cccccc" stroke-width="1.1"/>
<line x1="236.15" y1="588.9" x2="236.15" y2="760.5" stroke="#cccccc" stroke-width="1.1"/>
<line x1="264.40" y1="588.9" x2="264.40" y2="760.5" stroke="#cccccc" stroke-width="1.1"/>
<line x1="292.65" y1="588.9" x2="292.65" y2="760.5" stroke="#cccccc" stroke-width="1.1"/>
<line x1="320.90" y1="588.9" x2="320.90" y2="760.5" stroke="#cccccc" stroke-width="1.1"/>
<line x1="196.7" y1="760.50" x2="334.1" y2="760.50" stroke="#cccccc" stroke-width="1.1"/>
<line x1="196.7" y1="714.70" x2="334.1" y2="714.70" stroke="#cccccc" stroke-width="1.1"/>
<line x1="196.7" y1="668.90" x2="334.1" y2="668.90" stroke="#cccccc" stroke-width="1.1"/>
<line x1="196.7" y1="623.10" x2="334.1" y2="623.10" stroke="#cccccc" stroke-width="1.1"/>
<line x1="207.90" y1="760.5" x2="207.90" y2="756.0" stroke="#777" stroke-width="0.9"/>
<line x1="207.90" y1="588.9" x2="207.90" y2="593.4" stroke="#777" stroke-width="0.9"/>
<line x1="236.15" y1="760.5" x2="236.15" y2="756.0" stroke="#777" stroke-width="0.9"/>
<line x1="236.15" y1="588.9" x2="236.15" y2="593.4" stroke="#777" stroke-width="0.9"/>
<line x1="264.40" y1="760.5" x2="264.40" y2="756.0" stroke="#777" stroke-width="0.9"/>
<line x1="264.40" y1="588.9" x2="264.40" y2="593.4" stroke="#777" stroke-width="0.9"/>
<line x1="292.65" y1="760.5" x2="292.65" y2="756.0" stroke="#777" stroke-width="0.9"/>
<line x1="292.65" y1="588.9" x2="292.65" y2="593.4" stroke="#777" stroke-width="0.9"/>
<line x1="320.90" y1="760.5" x2="320.90" y2="756.0" stroke="#777" stroke-width="0.9"/>
<line x1="320.90" y1="588.9" x2="320.90" y2="593.4" stroke="#777" stroke-width="0.9"/>
<line x1="196.7" y1="760.50" x2="201.2" y2="760.50" stroke="#777" stroke-width="0.9"/>
<line x1="334.1" y1="760.50" x2="329.6" y2="760.50" stroke="#777" stroke-width="0.9"/>
<line x1="196.7" y1="714.70" x2="201.2" y2="714.70" stroke="#777" stroke-width="0.9"/>
<line x1="334.1" y1="714.70" x2="329.6" y2="714.70" stroke="#777" stroke-width="0.9"/>
<line x1="196.7" y1="668.90" x2="201.2" y2="668.90" stroke="#777" stroke-width="0.9"/>
<line x1="334.1" y1="668.90" x2="329.6" y2="668.90" stroke="#777" stroke-width="0.9"/>
<line x1="196.7" y1="623.10" x2="201.2" y2="623.10" stroke="#777" stroke-width="0.9"/>
<line x1="334.1" y1="623.10" x2="329.6" y2="623.10" stroke="#777" stroke-width="0.9"/>
<g clip-path="url(#ci_rocE)">
<line x1="207.90" y1="760.50" x2="5857.90" y2="531.50" stroke="#333" stroke-width="1.4" stroke-dasharray="6.09 6.09"/>
</g>
<g clip-path="url(#ci_rocE)"><polyline points="207.90,600.20 212.99,595.62 5857.90,531.50" fill="none" stroke="#1b9e77" stroke-width="1.6" stroke-opacity="0.68" stroke-linejoin="round"/></g>
<circle cx="207.90" cy="760.50" r="2.60" fill="#1b9e77" fill-opacity="0.82"/>
<circle cx="207.90" cy="613.48" r="5.40" fill="#1b9e77" fill-opacity="0.82"/>
<circle cx="207.90" cy="602.03" r="2.60" fill="#1b9e77" fill-opacity="0.82"/>
<circle cx="207.90" cy="596.99" r="2.60" fill="#1b9e77" fill-opacity="0.82"/>
<circle cx="212.99" cy="595.62" r="2.60" fill="#1b9e77" fill-opacity="0.82"/>
<g clip-path="url(#ci_rocE)"><polyline points="207.90,636.84 212.99,634.55 215.25,615.09 5857.90,531.50" fill="none" stroke="#d95f02" stroke-width="1.6" stroke-opacity="0.68" stroke-linejoin="round"/></g>
<rect x="205.45" y="758.05" width="4.90" height="4.90" fill="#d95f02" fill-opacity="0.82"/>
<rect x="210.54" y="632.10" width="4.90" height="4.90" fill="#d95f02" fill-opacity="0.82"/>
<rect x="210.54" y="627.52" width="4.90" height="4.90" fill="#d95f02" fill-opacity="0.82"/>
<rect x="210.54" y="622.94" width="4.90" height="4.90" fill="#d95f02" fill-opacity="0.82"/>
<rect x="210.54" y="618.36" width="4.90" height="4.90" fill="#d95f02" fill-opacity="0.82"/>
<rect x="210.54" y="614.92" width="4.90" height="4.90" fill="#d95f02" fill-opacity="0.82"/>
<rect x="202.50" y="626.17" width="10.80" height="10.80" fill="#d95f02" fill-opacity="0.82"/>
<rect x="212.80" y="612.63" width="4.90" height="4.90" fill="#d95f02" fill-opacity="0.82"/>
<g clip-path="url(#ci_rocE)"><polyline points="207.90,691.80 213.55,682.64 213.55,663.86 219.76,651.27 223.72,643.48 5857.90,531.50" fill="none" stroke="#7570b3" stroke-width="1.6" stroke-opacity="0.68" stroke-linejoin="round"/></g>
<circle cx="207.90" cy="760.50" r="2.40" fill="#7570b3" fill-opacity="0.9"/>
<circle cx="213.55" cy="682.64" r="2.40" fill="#7570b3" fill-opacity="0.9"/>
<circle cx="213.55" cy="663.86" r="2.40" fill="#7570b3" fill-opacity="0.9"/>
<path d="M219.76,647.97L219.76,654.57M216.91,649.62L222.62,652.92M222.62,649.62L216.91,652.92" stroke="#7570b3" stroke-width="1.65" stroke-linecap="round" fill="none"/><circle cx="219.76" cy="651.27" r="1.65" fill="#7570b3"/>
<circle cx="223.72" cy="643.48" r="2.40" fill="#7570b3" fill-opacity="0.9"/>
<g clip-path="url(#ci_rocE)"><polyline points="207.90,690.43 212.99,641.88 224.85,609.59 257.62,589.44 275.70,583.48 383.05,563.10 676.85,547.07 1168.40,538.37 1789.90,534.48 2496.15,532.42 3225.00,531.73 5857.90,531.50" fill="none" stroke="#e7298a" stroke-width="1.6" stroke-opacity="0.68" stroke-linejoin="round"/></g>
<path d="M207.90,757.80L210.46,762.12L205.34,762.12Z" fill="#e7298a" fill-opacity="0.82"/>
<path d="M207.90,684.49L213.54,693.99L202.26,693.99Z" fill="#e7298a" fill-opacity="0.82"/>
<path d="M212.99,639.18L215.55,643.50L210.42,643.50Z" fill="#e7298a" fill-opacity="0.82"/>
<path d="M224.85,606.89L227.41,611.21L222.29,611.21Z" fill="#e7298a" fill-opacity="0.82"/>
<g clip-path="url(#ci_rocE)"><polyline points="207.90,676.46 213.55,675.77 5857.90,531.50" fill="none" stroke="#66a61e" stroke-width="1.6" stroke-opacity="0.68" stroke-linejoin="round"/></g>
<path d="M207.90,763.20L210.46,758.88L205.34,758.88Z" fill="#66a61e" fill-opacity="0.82"/>
<path d="M207.90,763.20L210.46,758.88L205.34,758.88Z" fill="#66a61e" fill-opacity="0.82"/>
<path d="M207.90,755.87L210.46,751.56L205.34,751.56Z" fill="#66a61e" fill-opacity="0.82"/>
<path d="M207.90,741.90L210.46,737.59L205.34,737.59Z" fill="#66a61e" fill-opacity="0.82"/>
<path d="M207.90,720.83L210.46,716.52L205.34,716.52Z" fill="#66a61e" fill-opacity="0.82"/>
<path d="M207.90,682.40L213.54,672.89L202.26,672.89Z" fill="#66a61e" fill-opacity="0.82"/>
<g clip-path="url(#ci_rocE)"><polyline points="207.90,691.80 214.12,655.16 225.41,641.19 247.45,617.83 953.70,578.67 3360.60,550.05 4874.80,538.83 5575.40,533.79 5857.90,531.50" fill="none" stroke="#e6ab02" stroke-width="1.6" stroke-opacity="0.68" stroke-linejoin="round"/></g>
<path d="M207.90,757.32L210.23,760.50L207.90,763.68L205.57,760.50Z" fill="#e6ab02" fill-opacity="0.82"/>
<path d="M207.90,744.49L210.23,747.68L207.90,750.86L205.57,747.68Z" fill="#e6ab02" fill-opacity="0.82"/>
<path d="M207.90,725.26L210.23,728.44L207.90,731.62L205.57,728.44Z" fill="#e6ab02" fill-opacity="0.82"/>
<path d="M207.90,684.78L213.03,691.80L207.90,698.82L202.77,691.80Z" fill="#e6ab02" fill-opacity="0.82"/>
<path d="M214.12,651.98L216.44,655.16L214.12,658.34L211.79,655.16Z" fill="#e6ab02" fill-opacity="0.82"/>
<path d="M247.45,614.65L249.78,617.83L247.45,621.02L245.12,617.83Z" fill="#e6ab02" fill-opacity="0.82"/>
<g clip-path="url(#ci_rocE)"><polyline points="207.90,644.17 212.14,636.38 212.99,628.60 218.63,610.05 224.85,602.26 235.02,593.56 281.35,573.18 5857.90,531.50" fill="none" stroke="#a6761d" stroke-width="1.6" stroke-opacity="0.68" stroke-linejoin="round"/></g>
<polygon points="207.90,757.68 210.58,759.63 209.56,762.78 206.24,762.78 205.22,759.63" fill="#a6761d" fill-opacity="0.82"/>
<polygon points="207.90,708.91 210.58,710.85 209.56,714.00 206.24,714.00 205.22,710.85" fill="#a6761d" fill-opacity="0.82"/>
<polygon points="207.90,704.55 210.58,706.50 209.56,709.65 206.24,709.65 205.22,706.50" fill="#a6761d" fill-opacity="0.82"/>
<polygon points="207.90,700.20 210.58,702.15 209.56,705.30 206.24,705.30 205.22,702.15" fill="#a6761d" fill-opacity="0.82"/>
<polygon points="207.90,695.39 210.58,697.34 209.56,700.49 206.24,700.49 205.22,697.34" fill="#a6761d" fill-opacity="0.82"/>
<polygon points="207.90,689.21 210.58,691.16 209.56,694.31 206.24,694.31 205.22,691.16" fill="#a6761d" fill-opacity="0.82"/>
<polygon points="207.90,683.03 210.58,684.98 209.56,688.13 206.24,688.13 205.22,684.98" fill="#a6761d" fill-opacity="0.82"/>
<polygon points="207.90,675.01 210.58,676.96 209.56,680.11 206.24,680.11 205.22,676.96" fill="#a6761d" fill-opacity="0.82"/>
<polygon points="207.90,663.33 210.58,665.28 209.56,668.43 206.24,668.43 205.22,665.28" fill="#a6761d" fill-opacity="0.82"/>
<polygon points="207.90,656.24 210.58,658.18 209.56,661.33 206.24,661.33 205.22,658.18" fill="#a6761d" fill-opacity="0.82"/>
<polygon points="207.90,648.45 210.58,650.40 209.56,653.55 206.24,653.55 205.22,650.40" fill="#a6761d" fill-opacity="0.82"/>
<polygon points="207.90,641.35 210.58,643.30 209.56,646.45 206.24,646.45 205.22,643.30" fill="#a6761d" fill-opacity="0.82"/>
<polygon points="207.90,667.04 213.81,671.33 211.55,678.27 204.25,678.27 201.99,671.33" fill="#a6761d" fill-opacity="0.82"/>
<polygon points="212.14,633.56 214.82,635.51 213.79,638.66 210.48,638.66 209.46,635.51" fill="#a6761d" fill-opacity="0.82"/>
<polygon points="212.99,625.78 215.66,627.73 214.64,630.88 211.33,630.88 210.31,627.73" fill="#a6761d" fill-opacity="0.82"/>
<polygon points="218.63,607.23 221.31,609.18 220.29,612.33 216.98,612.33 215.96,609.18" fill="#a6761d" fill-opacity="0.82"/>
<polygon points="224.85,599.44 227.53,601.39 226.51,604.54 223.19,604.54 222.17,601.39" fill="#a6761d" fill-opacity="0.82"/>
<polygon points="235.02,590.74 237.70,592.69 236.68,595.84 233.36,595.84 232.34,592.69" fill="#a6761d" fill-opacity="0.82"/>
<g clip-path="url(#ci_rocE)"><polyline points="207.90,760.50 258.75,719.51 263.27,716.99 270.05,712.41 5857.90,531.50" fill="none" stroke="#666666" stroke-width="1.6" stroke-opacity="0.68" stroke-linejoin="round"/></g>
<circle cx="207.90" cy="760.50" r="2.45" fill="#fff" stroke="#666666" stroke-width="1.0"/><path d="M205.45,760.50A2.45,2.45 0 0 1 210.35,760.50Z" fill="#666666" fill-opacity="0.9"/>
<circle cx="258.75" cy="719.51" r="2.45" fill="#fff" stroke="#666666" stroke-width="1.0"/><path d="M256.30,719.51A2.45,2.45 0 0 1 261.20,719.51Z" fill="#666666" fill-opacity="0.9"/>
<circle cx="263.27" cy="716.99" r="2.45" fill="#fff" stroke="#666666" stroke-width="1.0"/><path d="M260.82,716.99A2.45,2.45 0 0 1 265.72,716.99Z" fill="#666666" fill-opacity="0.9"/>
<circle cx="270.05" cy="712.41" r="5.40" fill="#fff" stroke="#666666" stroke-width="1.3"/><path d="M264.65,712.41A5.40,5.40 0 0 1 275.45,712.41Z" fill="#666666" fill-opacity="0.85"/>
<rect x="196.7" y="588.9" width="137.40000000000003" height="171.60000000000002" fill="none" stroke="#000" stroke-width="1.3"/>
<text x="207.90" y="774.50" font-size="14" text-anchor="middle" textLength="6.80" lengthAdjust="spacingAndGlyphs">0</text>
<text x="264.40" y="774.50" font-size="14" text-anchor="middle" textLength="6.20" lengthAdjust="spacingAndGlyphs">1</text>
<text x="320.90" y="774.50" font-size="14" text-anchor="middle" textLength="6.80" lengthAdjust="spacingAndGlyphs">2</text>
<text x="192.60" y="765.10" font-size="14" text-anchor="end" textLength="6.80" lengthAdjust="spacingAndGlyphs">0</text>
<text x="192.60" y="719.30" font-size="14" text-anchor="end" textLength="20.30" lengthAdjust="spacingAndGlyphs">0.2</text>
<text x="192.60" y="673.50" font-size="14" text-anchor="end" textLength="20.30" lengthAdjust="spacingAndGlyphs">0.4</text>
<text x="192.60" y="627.70" font-size="14" text-anchor="end" textLength="20.30" lengthAdjust="spacingAndGlyphs">0.6</text>
<text x="326.40" y="774.50" font-size="14" text-anchor="start" textLength="21.50" lengthAdjust="spacingAndGlyphs">×10</text>
<text x="349.40" y="768.40" font-size="11" text-anchor="start" textLength="12.80" lengthAdjust="spacingAndGlyphs">−2</text>
<text x="186.60" y="103.90" font-size="21" text-anchor="middle" textLength="93.60" lengthAdjust="spacingAndGlyphs">ROC (full)</text>
<text x="544.20" y="103.90" font-size="21" text-anchor="middle" textLength="78.70" lengthAdjust="spacingAndGlyphs">PR (full)</text>
<text x="187.20" y="492.30" font-size="21" text-anchor="middle" textLength="109.70" lengthAdjust="spacingAndGlyphs">ROC (early)</text>
<text x="544.70" y="492.30" font-size="21" text-anchor="middle" textLength="93.40" lengthAdjust="spacingAndGlyphs">PR (early)</text>
<text x="187.90" y="440.60" font-size="21" text-anchor="middle" textLength="42.10" lengthAdjust="spacingAndGlyphs">FPR</text>
<text x="545.20" y="440.60" font-size="21" text-anchor="middle" textLength="42.40" lengthAdjust="spacingAndGlyphs">TPR</text>
<text x="14.50" y="255.60" font-size="21" text-anchor="middle" textLength="44.40" lengthAdjust="spacingAndGlyphs" transform="rotate(-90 14.50 255.60)">TPR</text>
<text x="371.90" y="257.00" font-size="21" text-anchor="middle" textLength="12.70" lengthAdjust="spacingAndGlyphs" transform="rotate(-90 371.90 257.00)">P</text>
<text x="187.90" y="828.40" font-size="21" text-anchor="middle" textLength="42.10" lengthAdjust="spacingAndGlyphs">FPR</text>
<text x="545.20" y="828.40" font-size="21" text-anchor="middle" textLength="42.40" lengthAdjust="spacingAndGlyphs">TPR</text>
<text x="14.50" y="643.40" font-size="21" text-anchor="middle" textLength="44.40" lengthAdjust="spacingAndGlyphs" transform="rotate(-90 14.50 643.40)">TPR</text>
<text x="371.90" y="644.80" font-size="21" text-anchor="middle" textLength="12.70" lengthAdjust="spacingAndGlyphs" transform="rotate(-90 371.90 644.80)">P</text>
<line x1="107.0" y1="11.0" x2="141.6" y2="11.0" stroke="#1b9e77" stroke-width="1.1" stroke-opacity="0.92"/>
<circle cx="124.30" cy="11.00" r="4.60" fill="#1b9e77" fill-opacity="0.82"/>
<line x1="265.9" y1="11.0" x2="301.0" y2="11.0" stroke="#d95f02" stroke-width="1.1" stroke-opacity="0.92"/>
<rect x="279.10" y="6.70" width="8.60" height="8.60" fill="#d95f02" fill-opacity="0.82"/>
<line x1="405.5" y1="11.0" x2="439.4" y2="11.0" stroke="#7570b3" stroke-width="1.1" stroke-opacity="0.92"/>
<path d="M422.50,6.93L422.50,15.07M418.98,8.96L426.02,13.04M426.02,8.96L418.98,13.04" stroke="#7570b3" stroke-width="2.04" stroke-linecap="round" fill="none"/><circle cx="422.50" cy="11.00" r="2.04" fill="#7570b3"/>
<line x1="526.1" y1="11.0" x2="560.8" y2="11.0" stroke="#e7298a" stroke-width="1.1" stroke-opacity="0.92"/>
<path d="M543.50,7.20L547.68,14.24L539.32,14.24Z" fill="#e7298a" fill-opacity="0.82"/>
<line x1="107.0" y1="39.0" x2="141.6" y2="39.0" stroke="#66a61e" stroke-width="1.1" stroke-opacity="0.92"/>
<path d="M124.30,42.80L128.48,35.76L120.12,35.76Z" fill="#66a61e" fill-opacity="0.82"/>
<line x1="265.9" y1="39.0" x2="301.0" y2="39.0" stroke="#e6ab02" stroke-width="1.1" stroke-opacity="0.92"/>
<path d="M283.40,34.32L286.82,39.00L283.40,43.68L279.98,39.00Z" fill="#e6ab02" fill-opacity="0.82"/>
<line x1="405.5" y1="39.0" x2="439.4" y2="39.0" stroke="#a6761d" stroke-width="1.1" stroke-opacity="0.92"/>
<polygon points="422.50,34.17 427.09,37.51 425.34,42.91 419.66,42.91 417.91,37.51" fill="#a6761d" fill-opacity="0.82"/>
<line x1="526.1" y1="39.0" x2="560.8" y2="39.0" stroke="#666666" stroke-width="1.1" stroke-opacity="0.92"/>
<circle cx="543.50" cy="39.00" r="4.40" fill="#fff" stroke="#666666" stroke-width="1.3"/><path d="M539.10,39.00A4.40,4.40 0 0 1 547.90,39.00Z" fill="#666666" fill-opacity="0.9"/>
<text x="146.70" y="18.00" font-size="21" text-anchor="start" textLength="63.60" lengthAdjust="spacingAndGlyphs">NINOS</text>
<text x="211.30" y="12.00" font-size="14" text-anchor="start" textLength="7.40" lengthAdjust="spacingAndGlyphs">2</text>
<text x="220.00" y="18.00" font-size="21" text-anchor="start" textLength="21.00" lengthAdjust="spacingAndGlyphs">-T</text>
<text x="306.00" y="18.00" font-size="21" text-anchor="start" textLength="73.70" lengthAdjust="spacingAndGlyphs">NINOS2</text>
<text x="444.80" y="18.00" font-size="21" text-anchor="start" textLength="57.00" lengthAdjust="spacingAndGlyphs">PTPR</text>
<text x="565.90" y="18.00" font-size="21" text-anchor="start" textLength="55.70" lengthAdjust="spacingAndGlyphs">PAPR</text>
<text x="165.40" y="45.60" font-size="21" text-anchor="start" textLength="57.30" lengthAdjust="spacingAndGlyphs">PHPR</text>
<text x="314.30" y="45.60" font-size="21" text-anchor="start" textLength="57.70" lengthAdjust="spacingAndGlyphs">PNPR</text>
<text x="445.90" y="45.60" font-size="21" text-anchor="start" textLength="52.60" lengthAdjust="spacingAndGlyphs">IPMP</text>
<text x="567.30" y="45.60" font-size="21" text-anchor="start" textLength="51.70" lengthAdjust="spacingAndGlyphs">IMSD</text>
</svg></body></html>
